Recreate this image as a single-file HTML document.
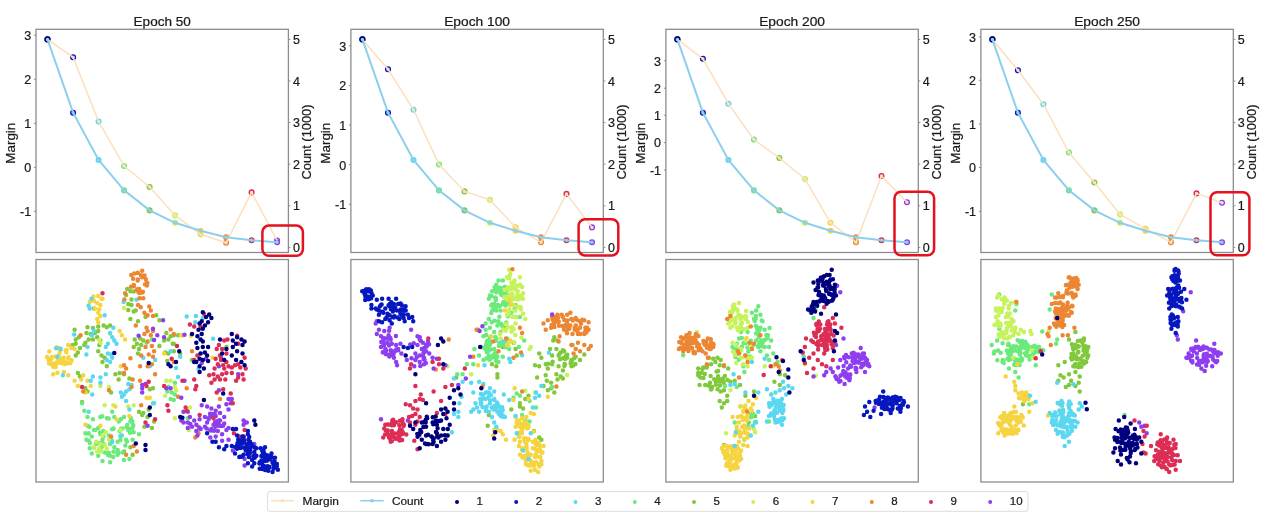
<!DOCTYPE html><html><head><meta charset="utf-8"><style>html,body{margin:0;padding:0;background:#fff;width:1269px;height:522px;overflow:hidden;position:relative}svg text{font-family:"Liberation Sans",sans-serif}svg{will-change:transform;filter:blur(0.3px)}svg text{stroke:#1a1a1a;stroke-width:0.22px}</style></head><body><svg width="1269" height="522" viewBox="0 0 1269 522" style="position:absolute;left:0;top:0">
<rect width="1269" height="522" fill="#fff"/>
<text x="162.2" y="26.1" font-size="12.2" text-anchor="middle" textLength="57.2" lengthAdjust="spacingAndGlyphs" fill="#1a1a1a">Epoch 50</text>
<rect x="36" y="29.3" width="252.4" height="223.2" fill="none" stroke="#8c8c8c" stroke-width="1.3"/>
<rect x="36" y="259.5" width="252.4" height="222.5" fill="none" stroke="#8c8c8c" stroke-width="1.3"/>
<line x1="34" y1="35.3" x2="36" y2="35.3" stroke="#8c8c8c" stroke-width="1"/>
<text x="31.1" y="40.1" font-size="12.5" text-anchor="end" fill="#1a1a1a">3</text>
<line x1="34" y1="79.3" x2="36" y2="79.3" stroke="#8c8c8c" stroke-width="1"/>
<text x="31.1" y="84.1" font-size="12.5" text-anchor="end" fill="#1a1a1a">2</text>
<line x1="34" y1="123.4" x2="36" y2="123.4" stroke="#8c8c8c" stroke-width="1"/>
<text x="31.1" y="128.2" font-size="12.5" text-anchor="end" fill="#1a1a1a">1</text>
<line x1="34" y1="167.4" x2="36" y2="167.4" stroke="#8c8c8c" stroke-width="1"/>
<text x="31.1" y="172.2" font-size="12.5" text-anchor="end" fill="#1a1a1a">0</text>
<line x1="34" y1="211.4" x2="36" y2="211.4" stroke="#8c8c8c" stroke-width="1"/>
<text x="31.1" y="216.2" font-size="12.5" text-anchor="end" fill="#1a1a1a">-1</text>
<line x1="288.4" y1="39.4" x2="290.4" y2="39.4" stroke="#8c8c8c" stroke-width="1"/>
<text x="292.9" y="43.9" font-size="12.5" fill="#1a1a1a">5</text>
<line x1="288.4" y1="81" x2="290.4" y2="81" stroke="#8c8c8c" stroke-width="1"/>
<text x="292.9" y="85.5" font-size="12.5" fill="#1a1a1a">4</text>
<line x1="288.4" y1="122.6" x2="290.4" y2="122.6" stroke="#8c8c8c" stroke-width="1"/>
<text x="292.9" y="127.1" font-size="12.5" fill="#1a1a1a">3</text>
<line x1="288.4" y1="164.2" x2="290.4" y2="164.2" stroke="#8c8c8c" stroke-width="1"/>
<text x="292.9" y="168.7" font-size="12.5" fill="#1a1a1a">2</text>
<line x1="288.4" y1="205.8" x2="290.4" y2="205.8" stroke="#8c8c8c" stroke-width="1"/>
<text x="292.9" y="210.3" font-size="12.5" fill="#1a1a1a">1</text>
<line x1="288.4" y1="247.4" x2="290.4" y2="247.4" stroke="#8c8c8c" stroke-width="1"/>
<text x="292.9" y="251.9" font-size="12.5" fill="#1a1a1a">0</text>
<text transform="translate(14.7,143.2) rotate(-90)" font-size="12.2" text-anchor="middle" textLength="41" lengthAdjust="spacingAndGlyphs" fill="#1a1a1a">Margin</text>
<text transform="translate(311.1,142) rotate(-90)" font-size="12.2" text-anchor="middle" textLength="75" lengthAdjust="spacingAndGlyphs" fill="#1a1a1a">Count (1000)</text>
<circle cx="47.5" cy="39.4" r="2.4" fill="#fcdfbd" stroke="#00007e" stroke-width="1.3"/>
<circle cx="47.5" cy="39.4" r="2.4" fill="#8ccfec" stroke="#00007e" stroke-width="1.3"/>
<circle cx="73.1" cy="57.3" r="2.4" fill="#fcdfbd" stroke="#0717bf" stroke-width="1.3"/>
<circle cx="73.1" cy="112.7" r="2.4" fill="#8ccfec" stroke="#0717bf" stroke-width="1.3"/>
<circle cx="98.6" cy="121.6" r="2.4" fill="#fcdfbd" stroke="#5ad8f2" stroke-width="1.3"/>
<circle cx="98.6" cy="160" r="2.4" fill="#8ccfec" stroke="#5ad8f2" stroke-width="1.3"/>
<circle cx="124.1" cy="166" r="2.4" fill="#fcdfbd" stroke="#6bea7c" stroke-width="1.3"/>
<circle cx="124.1" cy="190.4" r="2.4" fill="#8ccfec" stroke="#6bea7c" stroke-width="1.3"/>
<circle cx="149.6" cy="187" r="2.4" fill="#fcdfbd" stroke="#80c93c" stroke-width="1.3"/>
<circle cx="149.6" cy="210.4" r="2.4" fill="#8ccfec" stroke="#80c93c" stroke-width="1.3"/>
<circle cx="175.1" cy="215.4" r="2.4" fill="#fcdfbd" stroke="#c6f25a" stroke-width="1.3"/>
<circle cx="175.1" cy="222.8" r="2.4" fill="#8ccfec" stroke="#c6f25a" stroke-width="1.3"/>
<circle cx="200.6" cy="234.3" r="2.4" fill="#fcdfbd" stroke="#f6d43f" stroke-width="1.3"/>
<circle cx="200.6" cy="230.8" r="2.4" fill="#8ccfec" stroke="#f6d43f" stroke-width="1.3"/>
<circle cx="226.1" cy="242.8" r="2.4" fill="#fcdfbd" stroke="#ed8632" stroke-width="1.3"/>
<circle cx="226.1" cy="237.3" r="2.4" fill="#8ccfec" stroke="#ed8632" stroke-width="1.3"/>
<circle cx="251.6" cy="192.4" r="2.4" fill="#fcdfbd" stroke="#dc2e55" stroke-width="1.3"/>
<circle cx="251.6" cy="240.3" r="2.4" fill="#8ccfec" stroke="#dc2e55" stroke-width="1.3"/>
<circle cx="277.1" cy="240.5" r="2.4" fill="#fcdfbd" stroke="#8d3ff0" stroke-width="1.3"/>
<circle cx="277.1" cy="242.3" r="2.4" fill="#8ccfec" stroke="#8d3ff0" stroke-width="1.3"/>
<polyline points="47.5,39.4 73.1,57.3 98.6,121.6 124.1,166 149.6,187 175.1,215.4 200.6,234.3 226.1,242.8 251.6,192.4 277.1,240.5" fill="none" stroke="#fcdfbd" stroke-width="1.5"/>
<polyline points="47.5,39.4 73.1,112.7 98.6,160 124.1,190.4 149.6,210.4 175.1,222.8 200.6,230.8 226.1,237.3 251.6,240.3 277.1,242.3" fill="none" stroke="#8ccfec" stroke-width="2"/>
<rect x="262.4" y="225.6" width="40.5" height="30.2" rx="6.5" fill="none" stroke="#e3121e" stroke-width="2.5"/>
<text x="477.1" y="26.1" font-size="12.2" text-anchor="middle" textLength="65.8" lengthAdjust="spacingAndGlyphs" fill="#1a1a1a">Epoch 100</text>
<rect x="350.9" y="29.3" width="252.4" height="223.2" fill="none" stroke="#8c8c8c" stroke-width="1.3"/>
<rect x="350.9" y="259.5" width="252.4" height="222.5" fill="none" stroke="#8c8c8c" stroke-width="1.3"/>
<line x1="348.9" y1="45.9" x2="350.9" y2="45.9" stroke="#8c8c8c" stroke-width="1"/>
<text x="346.1" y="50.7" font-size="12.5" text-anchor="end" fill="#1a1a1a">3</text>
<line x1="348.9" y1="85.5" x2="350.9" y2="85.5" stroke="#8c8c8c" stroke-width="1"/>
<text x="346.1" y="90.3" font-size="12.5" text-anchor="end" fill="#1a1a1a">2</text>
<line x1="348.9" y1="125.1" x2="350.9" y2="125.1" stroke="#8c8c8c" stroke-width="1"/>
<text x="346.1" y="129.9" font-size="12.5" text-anchor="end" fill="#1a1a1a">1</text>
<line x1="348.9" y1="164.7" x2="350.9" y2="164.7" stroke="#8c8c8c" stroke-width="1"/>
<text x="346.1" y="169.5" font-size="12.5" text-anchor="end" fill="#1a1a1a">0</text>
<line x1="348.9" y1="204.3" x2="350.9" y2="204.3" stroke="#8c8c8c" stroke-width="1"/>
<text x="346.1" y="209.1" font-size="12.5" text-anchor="end" fill="#1a1a1a">-1</text>
<line x1="603.4" y1="39.4" x2="605.4" y2="39.4" stroke="#8c8c8c" stroke-width="1"/>
<text x="607.9" y="43.9" font-size="12.5" fill="#1a1a1a">5</text>
<line x1="603.4" y1="81" x2="605.4" y2="81" stroke="#8c8c8c" stroke-width="1"/>
<text x="607.9" y="85.5" font-size="12.5" fill="#1a1a1a">4</text>
<line x1="603.4" y1="122.6" x2="605.4" y2="122.6" stroke="#8c8c8c" stroke-width="1"/>
<text x="607.9" y="127.1" font-size="12.5" fill="#1a1a1a">3</text>
<line x1="603.4" y1="164.2" x2="605.4" y2="164.2" stroke="#8c8c8c" stroke-width="1"/>
<text x="607.9" y="168.7" font-size="12.5" fill="#1a1a1a">2</text>
<line x1="603.4" y1="205.8" x2="605.4" y2="205.8" stroke="#8c8c8c" stroke-width="1"/>
<text x="607.9" y="210.3" font-size="12.5" fill="#1a1a1a">1</text>
<line x1="603.4" y1="247.4" x2="605.4" y2="247.4" stroke="#8c8c8c" stroke-width="1"/>
<text x="607.9" y="251.9" font-size="12.5" fill="#1a1a1a">0</text>
<text transform="translate(329.6,143.2) rotate(-90)" font-size="12.2" text-anchor="middle" textLength="41" lengthAdjust="spacingAndGlyphs" fill="#1a1a1a">Margin</text>
<text transform="translate(626.1,142) rotate(-90)" font-size="12.2" text-anchor="middle" textLength="75" lengthAdjust="spacingAndGlyphs" fill="#1a1a1a">Count (1000)</text>
<circle cx="362.4" cy="39.4" r="2.4" fill="#fcdfbd" stroke="#00007e" stroke-width="1.3"/>
<circle cx="362.4" cy="39.4" r="2.4" fill="#8ccfec" stroke="#00007e" stroke-width="1.3"/>
<circle cx="388" cy="69.3" r="2.4" fill="#fcdfbd" stroke="#0717bf" stroke-width="1.3"/>
<circle cx="388" cy="112.7" r="2.4" fill="#8ccfec" stroke="#0717bf" stroke-width="1.3"/>
<circle cx="413.5" cy="109.7" r="2.4" fill="#fcdfbd" stroke="#5ad8f2" stroke-width="1.3"/>
<circle cx="413.5" cy="160" r="2.4" fill="#8ccfec" stroke="#5ad8f2" stroke-width="1.3"/>
<circle cx="439" cy="164.5" r="2.4" fill="#fcdfbd" stroke="#6bea7c" stroke-width="1.3"/>
<circle cx="439" cy="190.4" r="2.4" fill="#8ccfec" stroke="#6bea7c" stroke-width="1.3"/>
<circle cx="464.5" cy="191.4" r="2.4" fill="#fcdfbd" stroke="#80c93c" stroke-width="1.3"/>
<circle cx="464.5" cy="210.4" r="2.4" fill="#8ccfec" stroke="#80c93c" stroke-width="1.3"/>
<circle cx="490" cy="199.9" r="2.4" fill="#fcdfbd" stroke="#c6f25a" stroke-width="1.3"/>
<circle cx="490" cy="222.8" r="2.4" fill="#8ccfec" stroke="#c6f25a" stroke-width="1.3"/>
<circle cx="515.5" cy="227.3" r="2.4" fill="#fcdfbd" stroke="#f6d43f" stroke-width="1.3"/>
<circle cx="515.5" cy="230.8" r="2.4" fill="#8ccfec" stroke="#f6d43f" stroke-width="1.3"/>
<circle cx="541" cy="242.3" r="2.4" fill="#fcdfbd" stroke="#ed8632" stroke-width="1.3"/>
<circle cx="541" cy="237.3" r="2.4" fill="#8ccfec" stroke="#ed8632" stroke-width="1.3"/>
<circle cx="566.5" cy="193.9" r="2.4" fill="#fcdfbd" stroke="#dc2e55" stroke-width="1.3"/>
<circle cx="566.5" cy="240.3" r="2.4" fill="#8ccfec" stroke="#dc2e55" stroke-width="1.3"/>
<circle cx="592" cy="227.4" r="2.4" fill="#fcdfbd" stroke="#8d3ff0" stroke-width="1.3"/>
<circle cx="592" cy="242.3" r="2.4" fill="#8ccfec" stroke="#8d3ff0" stroke-width="1.3"/>
<polyline points="362.4,39.4 388,69.3 413.5,109.7 439,164.5 464.5,191.4 490,199.9 515.5,227.3 541,242.3 566.5,193.9 592,227.4" fill="none" stroke="#fcdfbd" stroke-width="1.5"/>
<polyline points="362.4,39.4 388,112.7 413.5,160 439,190.4 464.5,210.4 490,222.8 515.5,230.8 541,237.3 566.5,240.3 592,242.3" fill="none" stroke="#8ccfec" stroke-width="2"/>
<rect x="578.6" y="219.3" width="39.7" height="36.1" rx="6.5" fill="none" stroke="#e3121e" stroke-width="2.5"/>
<text x="792.1" y="26.1" font-size="12.2" text-anchor="middle" textLength="65.8" lengthAdjust="spacingAndGlyphs" fill="#1a1a1a">Epoch 200</text>
<rect x="665.9" y="29.3" width="252.4" height="223.2" fill="none" stroke="#8c8c8c" stroke-width="1.3"/>
<rect x="665.9" y="259.5" width="252.4" height="222.5" fill="none" stroke="#8c8c8c" stroke-width="1.3"/>
<line x1="663.9" y1="60.8" x2="665.9" y2="60.8" stroke="#8c8c8c" stroke-width="1"/>
<text x="661" y="65.6" font-size="12.5" text-anchor="end" fill="#1a1a1a">3</text>
<line x1="663.9" y1="88.2" x2="665.9" y2="88.2" stroke="#8c8c8c" stroke-width="1"/>
<text x="661" y="93" font-size="12.5" text-anchor="end" fill="#1a1a1a">2</text>
<line x1="663.9" y1="115.2" x2="665.9" y2="115.2" stroke="#8c8c8c" stroke-width="1"/>
<text x="661" y="120" font-size="12.5" text-anchor="end" fill="#1a1a1a">1</text>
<line x1="663.9" y1="142.6" x2="665.9" y2="142.6" stroke="#8c8c8c" stroke-width="1"/>
<text x="661" y="147.4" font-size="12.5" text-anchor="end" fill="#1a1a1a">0</text>
<line x1="663.9" y1="170" x2="665.9" y2="170" stroke="#8c8c8c" stroke-width="1"/>
<text x="661" y="174.8" font-size="12.5" text-anchor="end" fill="#1a1a1a">-1</text>
<line x1="918.3" y1="39.4" x2="920.3" y2="39.4" stroke="#8c8c8c" stroke-width="1"/>
<text x="922.8" y="43.9" font-size="12.5" fill="#1a1a1a">5</text>
<line x1="918.3" y1="81" x2="920.3" y2="81" stroke="#8c8c8c" stroke-width="1"/>
<text x="922.8" y="85.5" font-size="12.5" fill="#1a1a1a">4</text>
<line x1="918.3" y1="122.6" x2="920.3" y2="122.6" stroke="#8c8c8c" stroke-width="1"/>
<text x="922.8" y="127.1" font-size="12.5" fill="#1a1a1a">3</text>
<line x1="918.3" y1="164.2" x2="920.3" y2="164.2" stroke="#8c8c8c" stroke-width="1"/>
<text x="922.8" y="168.7" font-size="12.5" fill="#1a1a1a">2</text>
<line x1="918.3" y1="205.8" x2="920.3" y2="205.8" stroke="#8c8c8c" stroke-width="1"/>
<text x="922.8" y="210.3" font-size="12.5" fill="#1a1a1a">1</text>
<line x1="918.3" y1="247.4" x2="920.3" y2="247.4" stroke="#8c8c8c" stroke-width="1"/>
<text x="922.8" y="251.9" font-size="12.5" fill="#1a1a1a">0</text>
<text transform="translate(644.6,143.2) rotate(-90)" font-size="12.2" text-anchor="middle" textLength="41" lengthAdjust="spacingAndGlyphs" fill="#1a1a1a">Margin</text>
<text transform="translate(941,142) rotate(-90)" font-size="12.2" text-anchor="middle" textLength="75" lengthAdjust="spacingAndGlyphs" fill="#1a1a1a">Count (1000)</text>
<circle cx="677.4" cy="39.4" r="2.4" fill="#fcdfbd" stroke="#00007e" stroke-width="1.3"/>
<circle cx="677.4" cy="39.4" r="2.4" fill="#8ccfec" stroke="#00007e" stroke-width="1.3"/>
<circle cx="702.9" cy="58.8" r="2.4" fill="#fcdfbd" stroke="#0717bf" stroke-width="1.3"/>
<circle cx="702.9" cy="112.7" r="2.4" fill="#8ccfec" stroke="#0717bf" stroke-width="1.3"/>
<circle cx="728.4" cy="103.7" r="2.4" fill="#fcdfbd" stroke="#5ad8f2" stroke-width="1.3"/>
<circle cx="728.4" cy="160" r="2.4" fill="#8ccfec" stroke="#5ad8f2" stroke-width="1.3"/>
<circle cx="753.9" cy="139.6" r="2.4" fill="#fcdfbd" stroke="#6bea7c" stroke-width="1.3"/>
<circle cx="753.9" cy="190.4" r="2.4" fill="#8ccfec" stroke="#6bea7c" stroke-width="1.3"/>
<circle cx="779.4" cy="158" r="2.4" fill="#fcdfbd" stroke="#80c93c" stroke-width="1.3"/>
<circle cx="779.4" cy="210.4" r="2.4" fill="#8ccfec" stroke="#80c93c" stroke-width="1.3"/>
<circle cx="805" cy="179" r="2.4" fill="#fcdfbd" stroke="#c6f25a" stroke-width="1.3"/>
<circle cx="805" cy="222.8" r="2.4" fill="#8ccfec" stroke="#c6f25a" stroke-width="1.3"/>
<circle cx="830.5" cy="222.8" r="2.4" fill="#fcdfbd" stroke="#f6d43f" stroke-width="1.3"/>
<circle cx="830.5" cy="230.8" r="2.4" fill="#8ccfec" stroke="#f6d43f" stroke-width="1.3"/>
<circle cx="856" cy="242.3" r="2.4" fill="#fcdfbd" stroke="#ed8632" stroke-width="1.3"/>
<circle cx="856" cy="237.3" r="2.4" fill="#8ccfec" stroke="#ed8632" stroke-width="1.3"/>
<circle cx="881.5" cy="176" r="2.4" fill="#fcdfbd" stroke="#dc2e55" stroke-width="1.3"/>
<circle cx="881.5" cy="240.3" r="2.4" fill="#8ccfec" stroke="#dc2e55" stroke-width="1.3"/>
<circle cx="907" cy="202.3" r="2.4" fill="#fcdfbd" stroke="#8d3ff0" stroke-width="1.3"/>
<circle cx="907" cy="242.3" r="2.4" fill="#8ccfec" stroke="#8d3ff0" stroke-width="1.3"/>
<polyline points="677.4,39.4 702.9,58.8 728.4,103.7 753.9,139.6 779.4,158 805,179 830.5,222.8 856,242.3 881.5,176 907,202.3" fill="none" stroke="#fcdfbd" stroke-width="1.5"/>
<polyline points="677.4,39.4 702.9,112.7 728.4,160 753.9,190.4 779.4,210.4 805,222.8 830.5,230.8 856,237.3 881.5,240.3 907,242.3" fill="none" stroke="#8ccfec" stroke-width="2"/>
<rect x="894.5" y="191.8" width="39.6" height="63.4" rx="6.5" fill="none" stroke="#e3121e" stroke-width="2.5"/>
<text x="1107.1" y="26.1" font-size="12.2" text-anchor="middle" textLength="65.8" lengthAdjust="spacingAndGlyphs" fill="#1a1a1a">Epoch 250</text>
<rect x="980.9" y="29.3" width="252.4" height="223.2" fill="none" stroke="#8c8c8c" stroke-width="1.3"/>
<rect x="980.9" y="259.5" width="252.4" height="222.5" fill="none" stroke="#8c8c8c" stroke-width="1.3"/>
<line x1="978.9" y1="36.9" x2="980.9" y2="36.9" stroke="#8c8c8c" stroke-width="1"/>
<text x="976" y="41.7" font-size="12.5" text-anchor="end" fill="#1a1a1a">3</text>
<line x1="978.9" y1="80.3" x2="980.9" y2="80.3" stroke="#8c8c8c" stroke-width="1"/>
<text x="976" y="85.1" font-size="12.5" text-anchor="end" fill="#1a1a1a">2</text>
<line x1="978.9" y1="124.1" x2="980.9" y2="124.1" stroke="#8c8c8c" stroke-width="1"/>
<text x="976" y="128.9" font-size="12.5" text-anchor="end" fill="#1a1a1a">1</text>
<line x1="978.9" y1="167.5" x2="980.9" y2="167.5" stroke="#8c8c8c" stroke-width="1"/>
<text x="976" y="172.3" font-size="12.5" text-anchor="end" fill="#1a1a1a">0</text>
<line x1="978.9" y1="211.4" x2="980.9" y2="211.4" stroke="#8c8c8c" stroke-width="1"/>
<text x="976" y="216.2" font-size="12.5" text-anchor="end" fill="#1a1a1a">-1</text>
<line x1="1233.3" y1="39.4" x2="1235.3" y2="39.4" stroke="#8c8c8c" stroke-width="1"/>
<text x="1237.8" y="43.9" font-size="12.5" fill="#1a1a1a">5</text>
<line x1="1233.3" y1="81" x2="1235.3" y2="81" stroke="#8c8c8c" stroke-width="1"/>
<text x="1237.8" y="85.5" font-size="12.5" fill="#1a1a1a">4</text>
<line x1="1233.3" y1="122.6" x2="1235.3" y2="122.6" stroke="#8c8c8c" stroke-width="1"/>
<text x="1237.8" y="127.1" font-size="12.5" fill="#1a1a1a">3</text>
<line x1="1233.3" y1="164.2" x2="1235.3" y2="164.2" stroke="#8c8c8c" stroke-width="1"/>
<text x="1237.8" y="168.7" font-size="12.5" fill="#1a1a1a">2</text>
<line x1="1233.3" y1="205.8" x2="1235.3" y2="205.8" stroke="#8c8c8c" stroke-width="1"/>
<text x="1237.8" y="210.3" font-size="12.5" fill="#1a1a1a">1</text>
<line x1="1233.3" y1="247.4" x2="1235.3" y2="247.4" stroke="#8c8c8c" stroke-width="1"/>
<text x="1237.8" y="251.9" font-size="12.5" fill="#1a1a1a">0</text>
<text transform="translate(959.6,143.2) rotate(-90)" font-size="12.2" text-anchor="middle" textLength="41" lengthAdjust="spacingAndGlyphs" fill="#1a1a1a">Margin</text>
<text transform="translate(1256,142) rotate(-90)" font-size="12.2" text-anchor="middle" textLength="75" lengthAdjust="spacingAndGlyphs" fill="#1a1a1a">Count (1000)</text>
<circle cx="992.4" cy="39.4" r="2.4" fill="#fcdfbd" stroke="#00007e" stroke-width="1.3"/>
<circle cx="992.4" cy="39.4" r="2.4" fill="#8ccfec" stroke="#00007e" stroke-width="1.3"/>
<circle cx="1017.9" cy="70.3" r="2.4" fill="#fcdfbd" stroke="#0717bf" stroke-width="1.3"/>
<circle cx="1017.9" cy="112.7" r="2.4" fill="#8ccfec" stroke="#0717bf" stroke-width="1.3"/>
<circle cx="1043.4" cy="104.2" r="2.4" fill="#fcdfbd" stroke="#5ad8f2" stroke-width="1.3"/>
<circle cx="1043.4" cy="160" r="2.4" fill="#8ccfec" stroke="#5ad8f2" stroke-width="1.3"/>
<circle cx="1068.9" cy="152.5" r="2.4" fill="#fcdfbd" stroke="#6bea7c" stroke-width="1.3"/>
<circle cx="1068.9" cy="190.4" r="2.4" fill="#8ccfec" stroke="#6bea7c" stroke-width="1.3"/>
<circle cx="1094.4" cy="182.5" r="2.4" fill="#fcdfbd" stroke="#80c93c" stroke-width="1.3"/>
<circle cx="1094.4" cy="210.4" r="2.4" fill="#8ccfec" stroke="#80c93c" stroke-width="1.3"/>
<circle cx="1120" cy="214.4" r="2.4" fill="#fcdfbd" stroke="#c6f25a" stroke-width="1.3"/>
<circle cx="1120" cy="222.8" r="2.4" fill="#8ccfec" stroke="#c6f25a" stroke-width="1.3"/>
<circle cx="1145.5" cy="228.8" r="2.4" fill="#fcdfbd" stroke="#f6d43f" stroke-width="1.3"/>
<circle cx="1145.5" cy="230.8" r="2.4" fill="#8ccfec" stroke="#f6d43f" stroke-width="1.3"/>
<circle cx="1171" cy="242.3" r="2.4" fill="#fcdfbd" stroke="#ed8632" stroke-width="1.3"/>
<circle cx="1171" cy="237.3" r="2.4" fill="#8ccfec" stroke="#ed8632" stroke-width="1.3"/>
<circle cx="1196.5" cy="193.4" r="2.4" fill="#fcdfbd" stroke="#dc2e55" stroke-width="1.3"/>
<circle cx="1196.5" cy="240.3" r="2.4" fill="#8ccfec" stroke="#dc2e55" stroke-width="1.3"/>
<circle cx="1222" cy="202.8" r="2.4" fill="#fcdfbd" stroke="#8d3ff0" stroke-width="1.3"/>
<circle cx="1222" cy="242.3" r="2.4" fill="#8ccfec" stroke="#8d3ff0" stroke-width="1.3"/>
<polyline points="992.4,39.4 1017.9,70.3 1043.4,104.2 1068.9,152.5 1094.4,182.5 1120,214.4 1145.5,228.8 1171,242.3 1196.5,193.4 1222,202.8" fill="none" stroke="#fcdfbd" stroke-width="1.5"/>
<polyline points="992.4,39.4 1017.9,112.7 1043.4,160 1068.9,190.4 1094.4,210.4 1120,222.8 1145.5,230.8 1171,237.3 1196.5,240.3 1222,242.3" fill="none" stroke="#8ccfec" stroke-width="2"/>
<rect x="1210.5" y="192.3" width="38.9" height="62.9" rx="6.5" fill="none" stroke="#e3121e" stroke-width="2.5"/>
<path d="M168.4 353.4h0M703.4 377.9h0M168.4 339.5h0M724.0 390.3h0M173.8 351.3h0M785.1 375.3h0M550.0 349.1h0M755.1 416.1h0M149.8 389.2h0M698.2 373.1h0M1063.6 377.4h0M570.6 362.9h0M1071.8 359.4h0M1022.9 404.3h0M719.7 401.0h0M719.7 365.2h0M574.4 358.0h0M551.1 382.8h0M159.4 320.2h0M133.7 291.6h0M1065.8 387.1h0M1079.7 391.4h0M101.5 355.6h0M106.8 366.3h0M128.3 304.1h0M727.2 401.0h0M525.3 398.9h0M720.0 385.4h0M1084.0 338.4h0M143.3 412.9h0M488.8 415.0h0M104.7 357.7h0M1071.5 354.0h0M702.5 368.9h0M118.6 379.6h0M547.8 368.5h0M1075.4 386.0h0M539.2 437.5h0M560.7 352.6h0M86.4 333.1h0M141.2 344.9h0M180.2 353.4h0M535.0 365.2h0M541.4 357.7h0M571.4 359.9h0M740.1 385.0h0M1081.4 366.7h0M1072.8 346.8h0M1075.4 372.1h0M1086.8 354.5h0M496.3 366.3h0M567.3 354.7h0M140.1 338.4h0M497.4 374.2h0M1077.9 340.9h0M74.6 329.8h0M558.7 354.9h0M722.2 378.7h0M1082.3 342.5h0M127.2 289.0h0M1075.4 332.0h0M724.9 376.0h0M1075.1 364.3h0M77.9 352.4h0M226.4 347.0h0M724.0 445.1h0M1075.1 344.7h0M94.0 308.4h0M115.4 374.2h0M136.9 343.8h0M708.6 385.3h0M139.0 411.8h0M709.4 385.9h0M1064.7 362.0h0M124.0 374.2h0M779.8 385.0h0M1084.9 354.1h0M1075.2 358.5h0M571.4 366.3h0M1087.3 357.7h0M100.4 340.6h0M497.4 377.4h0M720.7 391.4h0M167.4 361.0h0M80.0 376.4h0M552.1 364.2h0M72.5 344.9h0M545.7 364.2h0M1075.3 355.8h0M556.4 349.1h0M560.0 359.3h0M1084.0 363.5h0M580.0 359.9h0M129.4 378.5h0M539.2 366.3h0M1060.4 375.3h0M572.5 344.9h0M706.5 366.4h0M103.6 325.5h0M172.7 343.8h0M558.6 366.3h0M564.4 366.1h0M144.4 426.8h0M565.8 358.6h0M1069.0 339.5h0M1083.3 345.4h0M111.1 392.5h0M557.5 340.6h0M97.2 337.3h0M1079.7 363.6h0M192.0 359.9h0M571.0 362.5h0M728.2 368.5h0M1086.2 362.0h0M545.7 375.3h0M516.7 355.6h0M718.1 370.9h0M170.6 336.3h0M543.5 386.0h0M706.7 367.6h0M173.8 335.2h0M701.7 372.7h0M148.7 409.6h0M87.5 391.4h0M124.0 451.5h0M110.1 325.5h0M712.1 387.1h0M78.9 337.3h0M1072.9 355.9h0M1078.7 382.8h0M704.9 374.1h0M724.0 366.3h0M703.2 367.5h0M85.4 342.7h0M156.2 315.2h0M554.3 337.3h0M699.3 373.2h0M143.3 340.6h0M1078.0 352.4h0M138.0 353.4h0M541.4 439.7h0M166.3 333.1h0M710.6 376.1h0M523.1 408.6h0M139.0 349.1h0M721.8 407.5h0M717.5 389.2h0M75.7 339.5h0M154.1 421.4h0M131.5 299.4h0M699.6 385.1h0M560.5 358.9h0M565.0 364.2h0M142.2 415.0h0M705.2 385.0h0M560.0 353.3h0M151.9 427.9h0M99.3 344.9h0M575.4 364.0h0M98.2 326.6h0M1078.4 351.7h0M562.9 350.2h0M717.9 378.7h0M102.5 362.0h0M138.0 321.2h0M1058.3 365.2h0M77.9 373.1h0M135.8 310.5h0M1083.7 348.7h0M528.5 395.7h0M711.6 389.0h0M492.0 364.2h0M1058.3 380.7h0M119.7 373.1h0M552.6 361.7h0M714.2 379.3h0M557.5 379.6h0M552.1 355.6h0M710.0 382.8h0M1088.3 355.6h0M565.2 359.0h0M80.0 348.1h0M1071.1 380.7h0M159.4 345.9h0M724.0 403.2h0M1073.4 353.8h0M98.2 330.9h0M456.2 377.4h0M727.4 379.9h0M502.8 347.0h0M1082.7 361.9h0M147.6 417.1h0M134.7 339.5h0M774.4 381.7h0M564.2 351.3h0M1083.8 349.2h0M716.6 371.4h0M1083.2 360.9h0M1075.6 364.0h0M515.6 349.1h0M1071.9 344.3h0M730.4 381.7h0M553.2 340.6h0M1083.5 350.5h0M706.8 366.3h0M88.6 339.5h0M745.4 395.7h0M98.2 351.3h0M558.6 355.6h0M1083.8 347.1h0M153.0 388.2h0M572.0 360.6h0M727.2 395.7h0M504.9 327.7h0M718.1 376.3h0M1073.5 349.5h0M130.4 447.2h0M75.7 355.6h0M713.2 358.8h0M708.9 357.7h0M539.2 353.4h0M562.9 378.5h0M720.7 359.9h0M546.8 380.7h0M715.8 381.2h0M173.8 343.8h0M519.9 406.4h0M548.1 363.7h0M128.3 310.1h0M554.3 392.5h0M133.7 311.6h0M551.1 388.2h0M487.7 425.7h0M562.9 370.6h0M164.1 340.6h0M567.1 357.7h0M75.7 343.8h0M1088.1 355.7h0M779.8 374.2h0M537.1 377.4h0M748.6 422.5h0M1074.3 366.5h0M698.2 368.5h0M165.2 352.4h0M566.0 355.8h0M1077.3 359.2h0M754.0 391.4h0M84.3 344.9h0M1082.6 355.9h0M1069.0 385.0h0M1080.1 358.8h0M85.4 388.2h0M1077.7 346.0h0M1076.4 357.0h0M715.4 362.0h0M145.5 317.0h0M1085.6 349.4h0M1075.8 348.1h0M132.6 454.7h0M1080.8 340.6h0M1086.8 351.6h0M133.7 347.0h0M178.1 335.2h0M575.7 356.7h0M1088.3 347.0h0M563.4 357.9h0M1078.2 367.2h0M722.9 379.6h0M533.9 431.1h0M131.5 305.1h0M130.4 319.1h0M1077.6 346.7h0M1085.7 346.2h0M1087.2 349.2h0M1073.0 348.6h0M511.3 409.6h0M95.0 333.1h0M1086.0 354.3h0M1079.7 376.4h0M715.9 384.7h0M560.7 376.4h0M723.7 382.8h0M82.1 402.1h0M496.3 357.7h0M711.0 389.5h0M547.8 390.3h0M556.4 374.2h0M1086.2 349.8h0M698.2 375.3h0M1071.1 357.7h0M573.1 365.6h0M584.3 354.5h0M519.9 403.2h0M92.9 328.1h0M1073.3 366.3h0M92.9 339.5h0M734.7 380.7h0M717.5 357.7h0M564.6 364.0h0M700.3 377.4h0M126.1 295.1h0M106.8 327.3h0M182.4 335.2h0M719.6 381.6h0M130.4 291.2h0M1078.9 346.4h0M513.5 342.7h0M711.1 364.2h0M87.5 327.3h0M90.7 334.1h0M1083.7 340.7h0M1069.0 374.2h0" stroke="#80c93c" stroke-width="4.5" stroke-linecap="round" fill="none"/>
<path d="M139.0 434.3h0M100.4 434.3h0M500.6 310.5h0M108.7 418.4h0M511.3 312.7h0M757.9 346.2h0M745.8 343.1h0M536.0 407.5h0M483.4 359.9h0M497.8 305.1h0M760.4 314.8h0M1017.3 351.1h0M1010.7 354.4h0M754.7 321.1h0M1020.5 346.5h0M519.9 317.0h0M489.9 295.5h0M756.6 326.8h0M99.9 432.6h0M515.6 305.1h0M457.2 374.2h0M500.6 293.3h0M1003.7 362.9h0M499.8 306.0h0M474.4 349.1h0M1028.2 349.1h0M488.9 350.8h0M1003.5 360.4h0M773.3 353.4h0M503.8 296.6h0M486.6 350.9h0M486.8 341.2h0M732.5 347.0h0M1022.1 359.5h0M495.3 336.9h0M750.8 340.8h0M496.3 310.5h0M749.9 356.4h0M487.7 340.6h0M753.2 413.9h0M126.1 439.7h0M502.8 280.5h0M491.4 296.0h0M1018.2 340.5h0M494.3 308.1h0M756.1 340.6h0M1124.6 415.0h0M110.1 462.2h0M486.3 358.6h0M509.6 298.1h0M486.9 352.3h0M1051.8 294.4h0M496.3 292.3h0M1034.5 345.8h0M759.2 343.9h0M502.2 325.9h0M1017.6 359.8h0M501.4 324.0h0M98.2 427.9h0M1022.1 340.9h0M1011.2 348.6h0M1032.5 347.0h0M489.6 359.8h0M84.3 410.7h0M756.1 310.5h0M769.0 347.0h0M1031.6 356.3h0M1021.8 359.9h0M127.1 425.1h0M113.3 429.0h0M494.2 304.1h0M505.5 305.6h0M1019.4 348.3h0M502.2 293.3h0M117.6 453.6h0M1016.4 304.1h0M741.1 332.0h0M755.7 325.7h0M146.5 342.7h0M748.3 351.6h0M107.9 454.7h0M493.8 304.9h0M766.3 334.9h0M112.2 411.8h0M132.1 428.5h0M89.7 442.9h0M490.7 349.4h0M764.7 329.8h0M102.5 439.7h0M103.3 431.0h0M758.3 306.2h0M766.9 355.6h0M489.9 327.7h0M997.3 360.2h0M109.0 435.4h0M1039.0 347.0h0M761.9 340.5h0M739.0 338.4h0M496.5 361.6h0M1026.1 355.6h0M516.7 393.5h0M1002.8 359.9h0M1035.7 365.2h0M1007.6 358.7h0M486.1 335.1h0M741.8 337.9h0M95.2 429.9h0M1035.7 347.0h0M750.9 413.5h0M761.7 320.5h0M495.0 289.3h0M762.1 346.2h0M1020.5 353.0h0M1024.9 343.5h0M738.7 359.7h0M466.9 364.2h0M733.5 351.5h0M529.6 401.0h0M110.1 444.0h0M496.3 338.4h0M483.4 347.6h0M504.4 344.1h0M734.7 422.5h0M187.8 418.2h0M87.5 425.7h0M1010.5 359.2h0M735.4 356.9h0M485.6 323.4h0M747.5 347.6h0M993.9 353.4h0M121.9 435.4h0M100.4 417.1h0M484.6 347.5h0M94.1 447.5h0M89.4 426.7h0M500.3 290.4h0M117.6 441.8h0M104.7 452.6h0M750.8 417.3h0M1015.3 310.5h0M124.0 460.1h0M488.8 355.6h0M769.6 328.1h0M1008.0 353.5h0M1016.1 365.0h0M504.9 293.3h0M82.1 403.2h0M122.5 428.5h0M767.5 337.8h0M1034.8 351.6h0M994.4 351.5h0M170.6 398.9h0M120.4 436.3h0M1034.6 352.6h0M494.4 320.8h0M113.6 428.6h0M1015.3 372.1h0M1008.4 350.7h0M509.8 304.5h0M762.6 321.2h0M1038.0 349.4h0M126.9 441.5h0M491.8 322.3h0M495.3 308.6h0M755.9 316.1h0M1038.6 351.9h0M492.3 310.6h0M1025.0 347.9h0M736.8 387.1h0M130.0 432.7h0M741.9 346.7h0M167.4 391.4h0M102.5 461.1h0M997.1 340.6h0M1021.5 358.3h0M492.0 291.2h0M518.9 347.0h0M1057.2 339.5h0M120.4 440.0h0M494.2 332.0h0M486.2 344.3h0M118.6 452.8h0M504.3 291.9h0M153.0 403.2h0M500.6 332.0h0M1027.2 351.8h0M506.6 341.5h0M759.3 330.6h0M130.8 417.9h0M1008.1 344.9h0M488.8 298.7h0M748.3 425.8h0M133.2 425.1h0M100.4 450.4h0M1025.3 341.7h0M769.0 359.9h0M87.5 417.1h0M1029.6 359.4h0M85.4 433.2h0M496.3 284.8h0M88.8 440.8h0M1028.8 347.1h0M752.8 414.8h0M1004.6 333.1h0M89.7 448.3h0M94.0 430.0h0M119.7 431.1h0M117.5 454.8h0M504.9 301.9h0M743.3 366.3h0M743.5 343.1h0M764.7 347.0h0M756.1 333.6h0M1049.7 309.4h0M1016.1 346.4h0M1006.9 350.5h0M129.4 459.0h0M1037.2 347.2h0M88.6 433.2h0M757.3 329.6h0M1016.8 361.3h0M504.9 342.9h0M108.9 453.0h0M91.8 436.5h0M485.6 349.1h0M524.2 340.6h0M491.3 305.6h0M107.7 452.8h0M496.2 355.0h0M91.8 453.6h0M102.2 416.3h0M131.0 420.0h0M755.8 318.5h0M777.6 362.0h0M479.1 355.6h0M114.3 447.2h0M496.3 429.0h0M1027.3 349.9h0M122.9 452.6h0M1013.2 346.2h0M490.1 344.0h0M125.3 445.5h0M769.0 421.4h0M494.2 349.1h0M132.2 421.2h0M508.9 313.4h0M487.6 347.5h0M498.5 280.5h0M1017.1 364.3h0M498.3 321.4h0M1019.7 341.9h0M519.9 395.7h0M813.5 318.0h0M754.8 422.0h0M1019.7 354.5h0M171.7 392.5h0M168.4 387.1h0M1018.6 377.4h0M552.1 387.1h0M760.3 342.1h0M117.7 450.1h0M495.0 353.1h0M1014.2 364.7h0M501.3 294.8h0M755.8 421.8h0M513.5 397.8h0M499.5 342.7h0M744.3 372.1h0M98.2 455.8h0M1026.0 343.5h0M759.3 346.0h0M496.0 298.5h0M111.7 440.2h0M492.2 357.4h0M491.4 313.0h0M483.4 336.3h0M489.9 344.9h0M504.3 290.9h0M497.4 306.2h0M762.6 342.7h0M1032.5 354.3h0M522.1 415.0h0M1016.8 360.7h0M112.0 429.2h0M498.5 362.0h0M1015.3 362.0h0M683.2 355.2h0M1042.2 331.5h0M121.0 428.7h0M124.0 417.1h0M174.9 382.8h0M1009.3 355.3h0M815.6 309.4h0M759.8 328.4h0M494.0 308.3h0M1008.9 359.9h0M758.7 337.4h0M462.6 374.2h0M991.7 344.9h0M1008.9 368.5h0M1030.5 347.8h0M128.9 428.9h0M1008.4 343.7h0M750.9 345.7h0M103.5 436.4h0M760.4 351.3h0M1011.9 351.5h0M1019.6 364.9h0M1002.5 362.0h0M501.9 344.7h0M1029.3 404.3h0M737.1 343.8h0M1024.3 343.2h0M764.7 339.9h0M1028.5 356.0h0M998.1 350.4h0M489.8 341.4h0M525.3 420.4h0M738.2 349.4h0M485.6 329.8h0M1020.3 349.5h0M1056.1 343.8h0M760.4 327.7h0M1000.7 352.8h0M725.0 386.0h0M493.3 355.0h0M133.1 426.2h0M132.6 439.7h0M735.8 349.2h0M1021.6 345.1h0M758.3 334.1h0M118.8 421.5h0M113.5 451.8h0M754.0 319.1h0M505.5 347.3h0M495.2 297.6h0M86.4 439.7h0M497.4 289.0h0M529.6 421.4h0M761.6 341.5h0M1043.2 350.2h0M767.9 335.2h0M766.9 338.4h0M495.6 340.7h0M758.1 330.2h0M507.0 304.1h0M1023.8 347.5h0M762.7 342.6h0M759.0 345.2h0M758.3 347.0h0M507.3 338.7h0M499.2 287.8h0M173.8 400.0h0M1017.6 340.2h0M120.8 419.3h0M106.8 418.2h0M506.4 295.1h0M130.4 421.4h0M747.6 332.0h0M502.8 304.1h0M109.9 455.7h0M127.2 425.1h0M92.9 419.3h0M506.9 290.4h0M999.2 294.4h0M99.4 451.1h0M494.6 287.2h0M96.1 444.0h0M999.2 328.8h0M126.7 427.0h0M497.4 356.5h0M499.4 316.7h0M744.3 439.7h0M496.1 360.5h0M499.0 345.9h0M1012.6 350.3h0M101.8 446.7h0M1002.6 343.3h0M133.7 432.2h0M103.7 444.1h0M128.3 430.0h0M771.2 340.6h0M509.2 341.3h0M1017.9 362.2h0M1012.3 348.4h0M1014.4 358.7h0M507.8 316.3h0M510.6 301.0h0M1009.0 345.0h0M751.9 417.1h0M500.6 288.0h0M492.0 304.6h0M751.9 312.7h0M1014.4 350.6h0M509.2 349.1h0M502.8 356.7h0M745.2 355.2h0M498.5 321.2h0M1025.1 353.3h0M753.2 344.9h0M510.4 298.6h0M755.9 316.1h0M174.9 394.6h0M1027.6 345.0h0M151.9 339.5h0M113.3 456.9h0M497.4 325.5h0M1021.5 360.8h0M114.3 417.1h0M735.6 355.1h0M1033.9 353.2h0M99.8 443.0h0M111.4 442.4h0M1040.5 350.0h0M495.8 300.0h0M504.8 286.7h0M211.4 431.1h0M490.0 337.3h0M473.3 364.2h0M503.5 301.9h0M506.3 322.6h0M488.8 319.1h0M491.8 357.2h0M514.6 308.4h0" stroke="#6bea7c" stroke-width="4.5" stroke-linecap="round" fill="none"/>
<path d="M1001.7 335.3h0M738.4 314.9h0M535.0 392.5h0M1006.3 333.1h0M1007.5 314.8h0M471.2 374.2h0M771.2 394.6h0M515.6 323.4h0M731.5 318.7h0M745.9 319.1h0M507.4 278.0h0M520.3 284.7h0M1000.3 323.4h0M515.4 310.7h0M996.0 317.0h0M120.8 430.0h0M109.0 439.7h0M124.0 307.9h0M742.9 364.7h0M999.6 336.8h0M732.8 311.2h0M764.7 366.3h0M521.0 298.4h0M743.2 316.8h0M1011.7 319.2h0M998.6 315.3h0M104.7 405.3h0M105.8 432.2h0M510.2 305.2h0M1031.4 334.1h0M736.8 344.9h0M997.7 321.3h0M997.2 310.7h0M507.7 299.5h0M513.0 285.5h0M503.1 329.4h0M738.8 330.4h0M733.7 352.1h0M520.5 296.0h0M1006.1 323.0h0M1008.4 316.5h0M507.5 327.2h0M751.9 349.1h0M525.3 319.1h0M746.1 318.7h0M732.9 305.9h0M1004.6 297.6h0M511.3 286.9h0M1006.8 300.6h0M740.1 406.4h0M515.0 285.0h0M747.6 366.3h0M1008.9 306.1h0M1002.2 334.2h0M732.5 342.7h0M741.1 350.4h0M740.2 315.4h0M96.1 441.8h0M508.2 287.6h0M1015.0 332.2h0M189.9 407.5h0M509.0 342.2h0M109.0 387.1h0M730.4 327.7h0M530.7 347.0h0M506.4 298.6h0M510.5 297.3h0M512.4 296.0h0M1000.7 325.7h0M730.0 321.7h0M738.6 351.7h0M735.7 321.9h0M1015.3 301.9h0M736.8 353.4h0M100.4 444.0h0M740.8 318.2h0M516.7 285.8h0M734.9 355.2h0M999.3 308.4h0M995.9 310.5h0M749.5 357.9h0M697.1 332.0h0M741.1 349.1h0M1005.8 317.1h0M110.1 333.7h0M165.2 395.7h0M998.2 295.5h0M508.5 345.4h0M513.9 305.6h0M1013.2 357.7h0M97.2 451.5h0M199.6 429.0h0M100.4 386.0h0M509.2 269.7h0M729.9 312.0h0M447.6 366.3h0M1009.3 337.0h0M514.1 287.2h0M749.7 344.9h0M1015.3 327.7h0M128.3 406.4h0M745.4 405.3h0M745.4 340.6h0M1018.6 334.1h0M997.1 323.6h0M997.5 325.2h0M744.7 356.9h0M730.9 320.3h0M1020.7 329.8h0M1011.0 303.0h0M1010.2 324.5h0M1008.7 308.6h0M1009.9 336.9h0M755.1 432.2h0M1010.1 324.8h0M523.1 313.7h0M997.1 297.6h0M517.7 297.2h0M804.9 364.2h0M1008.9 325.5h0M1004.9 332.9h0M510.3 274.0h0M739.2 353.0h0M740.7 326.7h0M507.0 277.2h0M998.6 334.5h0M998.5 310.8h0M513.7 329.1h0M514.4 342.5h0M523.1 298.7h0M99.3 448.3h0M1023.9 332.0h0M113.3 405.3h0M513.8 282.4h0M1001.7 312.1h0M515.8 289.8h0M731.2 318.0h0M1006.5 330.4h0M133.7 405.3h0M174.9 387.1h0M1001.8 331.9h0M170.6 380.7h0M511.3 327.7h0M509.1 299.7h0M732.9 309.0h0M1011.5 330.2h0M736.3 363.0h0M519.9 277.2h0M1007.8 315.7h0M512.4 293.5h0M94.0 447.2h0M741.1 323.4h0M529.6 349.1h0M735.6 317.9h0M511.3 282.6h0M745.8 316.0h0M741.1 357.7h0M511.3 288.9h0M519.2 285.4h0M511.5 331.8h0M500.0 334.0h0M188.8 430.0h0M567.1 374.9h0M517.5 294.4h0M802.7 353.4h0M505.7 330.8h0M815.6 375.7h0M509.2 309.4h0M773.3 366.3h0M737.1 309.6h0M733.8 304.6h0M514.3 284.9h0M733.9 305.8h0M739.0 303.0h0M510.1 289.3h0M1048.6 330.9h0M732.2 326.4h0M504.9 290.0h0M751.9 357.7h0M747.6 327.7h0M747.9 321.9h0M995.9 308.4h0M999.0 326.4h0M517.8 291.2h0M512.4 317.0h0M1003.9 300.2h0M511.0 300.8h0M730.4 390.3h0M743.6 329.2h0M1004.0 338.2h0M730.4 313.7h0M506.4 324.1h0M1000.2 333.7h0M1014.8 329.0h0M740.9 325.8h0M509.0 312.9h0M734.6 320.0h0M742.1 322.7h0M509.7 341.9h0M522.1 286.9h0M523.1 293.3h0M507.0 314.8h0M743.3 364.2h0M733.3 308.2h0M101.5 451.5h0M520.5 306.9h0M1014.9 327.8h0M516.1 317.0h0M999.9 323.7h0M1001.8 299.3h0M747.0 357.9h0M734.4 305.0h0M1007.8 338.4h0M732.4 312.4h0M1003.4 335.6h0M504.5 297.0h0M509.1 278.3h0M100.4 342.7h0M521.0 309.4h0M746.1 310.9h0M511.9 327.1h0M104.7 445.1h0M1004.3 303.7h0M745.7 355.3h0M507.0 289.0h0M745.4 319.1h0M506.9 296.7h0M734.7 308.4h0M737.8 330.0h0M521.5 337.4h0M1013.5 321.1h0M739.6 327.2h0M521.5 296.0h0M517.8 306.9h0M737.0 327.7h0M174.9 418.2h0M102.5 435.4h0M518.3 299.6h0M1002.6 308.2h0M500.6 338.6h0M1032.5 357.7h0M740.2 319.0h0M732.2 319.8h0M1007.3 313.6h0M166.3 380.7h0M1010.9 326.0h0M1030.4 330.9h0M514.9 299.0h0M1031.4 350.2h0M525.3 390.7h0M994.5 325.1h0M735.0 323.4h0M999.1 336.8h0M728.2 323.4h0M99.3 340.1h0M1013.2 335.2h0M1010.0 313.6h0M1007.1 327.7h0M737.5 310.7h0M506.0 329.8h0M509.6 276.1h0M754.0 429.0h0M176.0 390.3h0M726.1 433.2h0M515.4 335.0h0M106.8 448.3h0M516.8 296.8h0M1009.5 323.0h0M507.7 298.3h0M514.7 316.7h0M1012.9 321.8h0M510.0 294.4h0M740.5 349.8h0M519.9 297.6h0M510.6 299.7h0M514.6 280.5h0" stroke="#c6f25a" stroke-width="4.5" stroke-linecap="round" fill="none"/>
<path d="M727.5 456.5h0M736.6 429.9h0M1022.2 417.5h0M531.1 465.2h0M1007.4 433.5h0M63.9 372.1h0M1018.8 421.6h0M526.1 424.0h0M497.4 430.0h0M741.1 459.0h0M49.6 359.3h0M729.8 463.5h0M734.2 451.5h0M85.4 392.5h0M740.1 436.5h0M1024.4 401.2h0M1005.8 431.2h0M751.9 410.7h0M724.6 454.3h0M1012.9 432.4h0M1004.7 421.6h0M528.6 438.9h0M1015.3 390.3h0M1005.7 376.4h0M742.2 426.8h0M726.8 463.4h0M724.0 446.1h0M525.6 455.9h0M67.0 362.6h0M515.6 426.8h0M516.7 422.5h0M538.0 442.7h0M59.1 354.3h0M530.7 461.1h0M1000.3 417.3h0M1025.6 397.2h0M727.4 454.8h0M212.4 357.7h0M533.9 465.4h0M543.5 446.1h0M525.9 464.3h0M745.4 429.0h0M743.3 411.8h0M56.9 363.6h0M742.9 420.0h0M1048.0 415.4h0M1004.6 435.4h0M534.1 442.6h0M535.5 439.8h0M87.5 380.7h0M730.4 461.1h0M745.8 432.9h0M728.4 461.8h0M1004.8 429.2h0M99.3 309.4h0M146.5 397.8h0M523.0 427.7h0M61.6 358.5h0M526.4 446.1h0M734.1 466.8h0M725.3 458.3h0M728.4 447.0h0M1003.4 422.1h0M1002.7 419.2h0M530.7 412.9h0M528.5 465.4h0M515.6 417.1h0M523.6 456.1h0M1014.8 418.1h0M1016.6 433.0h0M748.6 401.0h0M526.7 448.2h0M1026.1 392.5h0M129.4 416.1h0M1006.6 416.3h0M743.2 417.8h0M739.0 422.5h0M1006.3 420.2h0M77.9 386.0h0M539.2 466.5h0M743.3 445.1h0M527.2 455.5h0M750.8 408.6h0M510.3 340.6h0M528.1 458.9h0M1018.9 398.0h0M521.9 449.7h0M526.0 460.9h0M48.5 359.8h0M746.5 338.0h0M1021.9 392.6h0M530.7 470.8h0M1029.3 411.8h0M733.0 466.6h0M1011.7 427.9h0M732.8 451.7h0M522.1 433.2h0M180.9 335.2h0M1016.0 412.0h0M530.6 455.0h0M1021.5 398.6h0M522.1 430.0h0M53.1 364.4h0M528.4 427.2h0M511.3 304.1h0M747.6 415.0h0M1026.7 395.6h0M1024.4 396.6h0M732.5 452.6h0M514.6 439.7h0M1032.5 403.2h0M1018.4 422.4h0M1009.3 433.5h0M49.8 359.3h0M491.0 336.3h0M1018.4 430.0h0M524.8 425.8h0M81.1 379.6h0M1027.7 395.0h0M739.9 457.6h0M725.2 450.9h0M500.6 431.1h0M1002.2 416.0h0M538.4 464.2h0M532.8 441.8h0M524.2 438.3h0M100.4 315.9h0M744.2 425.6h0M726.2 465.7h0M1017.9 417.5h0M517.1 422.4h0M57.9 359.8h0M98.2 312.7h0M71.4 348.1h0M736.8 446.1h0M63.5 363.5h0M51.4 363.9h0M1009.5 430.7h0M734.7 435.4h0M98.2 322.3h0M1014.3 406.4h0M1009.1 431.7h0M1004.6 431.5h0M533.5 431.5h0M1012.3 428.8h0M53.2 374.2h0M527.5 428.4h0M1014.0 417.0h0M56.9 362.8h0M64.8 364.0h0M535.0 469.7h0M1003.0 432.0h0M59.9 351.6h0M506.0 439.7h0M747.1 420.6h0M743.2 410.7h0M723.2 451.6h0M747.6 437.5h0M535.9 441.7h0M1028.4 399.1h0M51.7 356.9h0M507.0 344.9h0M998.0 422.9h0M1026.1 394.2h0M541.4 461.1h0M95.0 308.4h0M735.5 454.1h0M55.8 348.3h0M60.9 362.9h0M1011.0 420.1h0M730.0 458.1h0M1001.3 429.9h0M197.4 425.7h0M537.1 451.5h0M100.4 425.7h0M528.6 439.9h0M97.2 303.0h0M1015.3 386.0h0M74.6 380.7h0M527.5 452.0h0M728.6 466.1h0M191.0 335.8h0M1013.7 411.9h0M115.4 406.4h0M734.8 468.5h0M525.3 455.8h0M532.8 448.3h0M1061.5 405.8h0M525.2 438.7h0M98.2 295.9h0M727.2 451.6h0M83.2 375.3h0M528.5 425.7h0M519.4 432.6h0M539.8 448.9h0M1001.5 424.4h0M530.7 454.7h0M1014.6 432.4h0M529.7 465.3h0M1008.1 432.3h0M528.5 398.9h0M533.6 465.9h0M478.1 365.2h0M125.1 339.5h0M744.2 438.9h0M741.1 450.4h0M737.1 432.7h0M535.6 454.6h0M517.3 423.5h0M85.4 424.7h0M94.0 300.9h0M164.1 353.4h0M522.7 448.2h0M1022.1 416.6h0M56.5 347.5h0M53.1 366.8h0M747.6 446.1h0M1025.7 395.5h0M55.7 356.6h0M1028.3 398.5h0M493.1 435.4h0M1002.0 428.4h0M741.1 416.1h0M536.0 462.2h0M1012.5 430.6h0M756.1 397.8h0M93.5 296.6h0M51.3 358.9h0M741.1 458.7h0M525.2 442.3h0M66.3 352.3h0M1021.9 394.3h0M63.8 357.8h0M1002.7 417.0h0M56.9 362.2h0M525.2 439.9h0M525.8 460.1h0M1015.8 425.5h0M746.6 417.5h0M524.2 439.7h0M533.9 413.9h0M102.5 298.7h0M541.3 452.1h0M518.3 422.7h0M494.2 430.0h0M1010.7 413.1h0M66.1 363.5h0M1016.1 416.9h0M1022.8 417.5h0M68.6 357.2h0M65.7 350.6h0M746.2 410.2h0M63.4 360.2h0M1021.3 415.0h0M1010.6 413.3h0M725.3 454.0h0M723.9 452.8h0M741.7 433.0h0M541.3 452.5h0M725.1 454.5h0M1018.6 393.5h0M1016.3 420.5h0M737.9 448.3h0M1002.9 416.5h0M522.1 418.2h0M747.9 433.8h0M739.7 452.6h0M735.7 455.6h0M526.4 417.1h0M66.5 349.9h0M74.6 349.1h0M721.8 448.3h0M1009.9 414.6h0M1007.7 418.2h0M539.2 444.0h0M733.6 448.8h0M732.9 446.1h0M120.8 366.3h0M737.9 417.1h0M519.9 441.8h0M1019.0 421.1h0M752.9 404.3h0M541.4 464.4h0M71.6 360.2h0M727.5 446.6h0M530.3 460.3h0M726.1 446.1h0M149.8 397.8h0M526.2 438.6h0M55.0 364.2h0M47.0 357.1h0M58.8 348.6h0M68.2 358.2h0M525.3 423.9h0M727.4 448.8h0M1010.3 414.5h0M97.2 319.1h0M727.3 457.1h0M737.8 461.2h0M536.3 444.9h0M519.9 454.7h0M739.0 441.8h0M513.5 400.0h0M1012.5 433.8h0M526.5 456.2h0M726.7 454.8h0M740.3 435.2h0M50.9 363.4h0M518.9 420.4h0M100.4 305.1h0M732.8 467.5h0M736.6 462.6h0M744.8 430.1h0M535.0 456.9h0M542.5 452.6h0M731.1 455.6h0M59.7 348.2h0M1017.5 364.2h0M535.3 448.9h0M1011.2 426.3h0M746.5 433.2h0M48.8 359.8h0M1010.2 420.8h0M1008.7 422.3h0M738.9 459.9h0M70.5 363.1h0M739.1 460.4h0M49.3 351.4h0M739.0 431.1h0M539.3 445.2h0M736.8 426.8h0M749.4 428.4h0M526.2 442.9h0M736.0 449.8h0M514.6 388.2h0M57.5 372.7h0M522.4 457.6h0M61.7 361.2h0M999.9 423.6h0M744.9 407.3h0M101.5 298.7h0M739.9 455.9h0M49.1 363.4h0M740.8 406.3h0M521.8 424.1h0M737.9 467.6h0M537.2 456.6h0M509.2 299.8h0M547.8 396.8h0M1004.7 432.5h0M121.9 335.2h0M1011.1 416.1h0M538.2 471.9h0M540.3 456.9h0M732.2 458.5h0M736.3 465.1h0M523.1 424.7h0M519.3 436.9h0M539.7 448.9h0M119.7 330.9h0M518.7 436.4h0M517.2 422.4h0M524.6 421.5h0M116.5 419.3h0M62.2 361.9h0M519.9 426.8h0M528.5 439.7h0M1009.8 433.2h0M518.9 446.1h0M729.6 446.5h0M730.4 469.7h0M734.2 464.6h0M1023.9 425.6h0M90.7 386.0h0M89.7 301.9h0M1006.9 429.5h0M732.5 417.1h0M68.2 344.9h0M733.4 449.4h0M734.7 465.4h0M68.2 375.3h0M532.3 462.3h0M731.9 450.3h0M1014.3 381.7h0M55.6 367.1h0M53.8 363.4h0M998.2 433.2h0M1014.6 429.7h0M1018.3 429.7h0M504.9 310.5h0M1022.5 393.6h0M67.7 363.3h0M502.8 434.3h0M1020.9 421.8h0M999.6 425.4h0M1004.2 413.0h0M1009.8 424.2h0M535.9 454.8h0M728.2 454.7h0M1025.4 398.7h0M517.3 420.6h0M1009.0 414.9h0M532.8 465.7h0M735.7 458.7h0" stroke="#f6d43f" stroke-width="4.5" stroke-linecap="round" fill="none"/>
<path d="M1062.5 403.1h0M136.5 299.8h0M776.4 404.9h0M1062.4 433.1h0M1070.1 420.4h0M1049.7 412.9h0M1068.6 405.6h0M198.5 368.9h0M1060.2 424.4h0M1068.0 420.7h0M111.1 354.5h0M481.3 403.2h0M1069.9 421.9h0M541.4 386.0h0M110.1 333.1h0M1062.5 421.3h0M494.2 398.9h0M493.3 409.5h0M116.5 343.8h0M503.0 415.4h0M454.0 413.9h0M1071.2 420.7h0M1063.0 432.5h0M1069.6 415.2h0M777.9 405.1h0M471.2 382.8h0M496.6 407.9h0M1062.0 426.4h0M1071.9 430.7h0M492.0 417.1h0M107.9 353.4h0M90.7 380.7h0M778.2 421.8h0M481.0 404.3h0M1061.8 422.5h0M530.7 433.2h0M1060.0 432.0h0M775.5 392.5h0M502.8 341.6h0M1059.4 410.6h0M491.7 407.4h0M487.7 392.5h0M121.9 396.8h0M143.3 357.7h0M195.3 322.3h0M484.5 365.2h0M774.7 412.9h0M1061.0 413.1h0M459.4 403.2h0M92.9 376.4h0M1056.0 430.1h0M502.7 410.1h0M781.9 424.7h0M74.2 334.6h0M775.1 402.2h0M788.3 386.0h0M488.8 411.8h0M1060.9 422.7h0M778.4 407.0h0M1062.9 437.1h0M1063.1 409.8h0M1053.6 414.7h0M735.8 432.2h0M492.8 407.7h0M1060.5 426.0h0M734.7 383.9h0M780.9 401.9h0M483.4 383.9h0M473.3 392.5h0M56.4 348.1h0M485.6 398.9h0M490.9 395.3h0M1062.1 405.5h0M1060.9 421.7h0M1068.8 413.9h0M1052.3 420.0h0M1070.7 404.1h0M498.5 405.3h0M112.2 357.7h0M1060.0 403.5h0M1067.5 418.2h0M758.3 392.5h0M1052.3 415.9h0M1067.1 435.6h0M504.9 417.1h0M1059.9 425.0h0M112.2 441.8h0M1070.6 426.0h0M489.9 388.2h0M1062.7 426.3h0M775.2 402.8h0M781.1 418.6h0M149.8 366.3h0M202.8 318.0h0M496.3 408.4h0M774.1 416.6h0M186.7 316.5h0M730.4 385.0h0M1071.5 420.5h0M1073.3 413.9h0M488.3 397.3h0M91.4 298.7h0M131.5 385.0h0M775.5 422.5h0M782.6 418.3h0M510.3 362.0h0M1061.8 418.9h0M1069.1 408.0h0M176.0 368.0h0M480.3 399.0h0M57.5 356.7h0M100.4 382.8h0M489.9 403.2h0M461.5 396.8h0M1064.7 446.1h0M479.1 411.8h0M1058.7 432.0h0M1069.4 433.7h0M734.7 446.1h0M528.5 459.0h0M780.3 406.0h0M494.5 405.8h0M1070.5 426.8h0M500.6 416.1h0M1075.0 420.9h0M501.6 411.8h0M771.2 394.6h0M1057.6 433.8h0M88.6 305.8h0M1056.1 420.7h0M458.3 411.8h0M155.1 359.9h0M480.6 402.7h0M1056.2 416.8h0M792.4 388.2h0M1062.8 435.7h0M1069.7 412.6h0M532.8 407.5h0M779.8 390.3h0M776.4 402.6h0M1068.6 404.2h0M1069.0 441.8h0M539.2 395.7h0M771.1 413.5h0M509.2 358.8h0M129.4 389.2h0M1055.4 412.8h0M774.9 410.1h0M1069.8 412.5h0M462.6 381.7h0M784.1 418.2h0M480.8 394.0h0M516.7 433.2h0M1063.0 434.5h0M1053.2 424.9h0M120.8 392.5h0M1054.3 424.4h0M1057.4 425.2h0M473.3 409.6h0M454.0 378.5h0M783.0 381.7h0M475.5 403.2h0M1057.2 382.8h0M497.3 402.7h0M479.1 381.7h0M489.3 393.0h0M447.6 435.4h0M1064.3 437.3h0M1051.8 422.5h0M774.3 411.4h0M772.1 415.1h0M105.8 374.2h0M128.3 383.9h0M784.1 388.2h0M100.4 377.4h0M769.4 406.0h0M502.2 407.3h0M745.4 392.5h0M1081.9 406.4h0M104.7 315.2h0M751.9 362.0h0M107.9 343.8h0M180.2 356.7h0M1070.9 411.8h0M170.6 351.3h0M477.0 407.5h0M129.4 409.6h0M154.1 403.2h0M1071.9 426.9h0M483.4 394.6h0M772.6 403.1h0M773.3 398.9h0M777.2 400.7h0M482.5 407.1h0M1054.6 415.0h0M1035.7 401.7h0M89.7 308.4h0M769.6 406.8h0M758.3 411.8h0M503.8 394.6h0M123.6 301.9h0M497.4 411.8h0M782.3 412.9h0M1055.4 415.3h0M1078.7 409.6h0M458.3 417.1h0M782.4 407.7h0M60.7 349.1h0M1061.5 401.0h0M1067.7 417.2h0M494.5 400.1h0M777.0 421.9h0M779.9 410.3h0M1065.6 418.9h0M106.8 359.9h0M1077.6 422.5h0M499.0 414.0h0M764.7 358.8h0M481.6 399.5h0M783.6 405.1h0M471.2 411.8h0M1066.3 426.8h0M87.5 347.0h0M1075.4 426.8h0M786.2 394.6h0M775.2 410.3h0M86.4 354.5h0M1071.9 424.3h0M766.9 389.2h0M1063.3 412.2h0M486.0 392.4h0M1063.0 416.2h0M496.0 409.7h0M1067.7 432.8h0M515.6 416.1h0M114.3 340.6h0M778.6 420.1h0M91.8 335.2h0M1055.0 412.4h0M1063.9 426.9h0M752.9 425.7h0M126.1 401.0h0M766.9 421.4h0M105.8 347.0h0M774.2 410.9h0M783.2 409.1h0M522.1 355.2h0M777.0 412.8h0M120.8 435.4h0M769.0 403.2h0M774.9 419.4h0M1064.6 422.2h0M548.9 352.8h0M809.6 310.9h0M88.6 411.8h0M1057.7 402.9h0M769.0 416.1h0M1074.8 415.4h0M1060.0 414.5h0M756.1 422.5h0M523.1 450.4h0M485.8 411.1h0M213.1 338.8h0M490.2 400.5h0M92.2 394.6h0M1063.4 425.3h0M113.3 327.7h0M486.7 406.4h0M496.3 426.8h0M112.2 337.3h0M178.1 377.0h0M483.1 397.4h0M775.8 407.8h0M771.6 405.0h0M126.1 391.4h0M124.0 394.6h0M1079.7 403.2h0M451.9 432.2h0M485.7 409.0h0M1058.4 424.7h0M1069.3 401.6h0M1059.9 404.2h0M500.6 408.6h0M536.0 392.5h0M778.6 400.9h0M1070.2 413.4h0M535.0 397.8h0M750.8 435.4h0M779.1 421.3h0M110.1 362.0h0M62.8 375.3h0M803.8 356.7h0M1073.5 415.0h0M781.9 398.9h0M1070.7 411.1h0M94.0 330.9h0M783.4 410.4h0M493.5 409.3h0M1067.4 429.9h0M494.2 391.4h0M195.9 315.9h0M1068.7 419.5h0M509.2 400.0h0M733.6 374.2h0M782.4 420.2h0M502.3 416.7h0M1029.9 395.7h0M494.2 422.5h0M1073.3 384.3h0M779.5 403.4h0" stroke="#5ad8f2" stroke-width="4.5" stroke-linecap="round" fill="none"/>
<path d="M151.9 345.9h0M689.6 333.1h0M568.2 326.8h0M146.7 282.5h0M482.4 386.5h0M1072.1 305.7h0M1075.7 295.8h0M575.7 325.5h0M1067.7 302.8h0M1074.4 327.7h0M1062.7 316.9h0M1075.5 294.5h0M559.6 336.3h0M134.3 273.5h0M1061.3 308.9h0M564.4 326.6h0M682.5 338.3h0M778.7 366.3h0M573.6 353.4h0M1047.5 334.1h0M709.4 347.5h0M1057.1 319.2h0M686.0 348.8h0M1060.3 315.5h0M681.5 343.3h0M750.8 326.6h0M694.8 352.2h0M584.3 334.1h0M1055.7 318.3h0M1054.9 325.1h0M1056.9 325.1h0M569.3 327.1h0M142.2 270.7h0M1072.8 294.5h0M137.8 272.8h0M710.7 349.1h0M557.5 314.8h0M131.0 286.7h0M1066.5 310.2h0M1069.6 287.8h0M435.8 369.5h0M1063.7 313.5h0M1066.8 290.5h0M709.5 348.8h0M1076.7 285.5h0M139.5 298.3h0M571.4 344.9h0M590.8 345.9h0M146.9 285.4h0M691.9 342.5h0M543.5 323.4h0M558.0 317.5h0M566.4 325.9h0M686.9 343.3h0M1057.6 324.6h0M704.1 343.6h0M178.1 396.8h0M1056.3 326.8h0M1062.0 307.6h0M147.6 366.3h0M124.0 365.2h0M684.7 345.7h0M136.9 451.5h0M1060.2 312.1h0M147.6 341.6h0M513.5 357.7h0M1016.4 301.9h0M140.1 380.7h0M1062.7 319.0h0M1065.9 285.3h0M137.7 280.4h0M555.2 319.5h0M547.8 320.2h0M1059.3 314.6h0M585.7 329.6h0M580.3 334.0h0M564.3 320.1h0M142.2 292.4h0M697.0 346.4h0M1070.7 282.7h0M1071.8 312.8h0M575.7 349.1h0M551.1 327.7h0M577.5 329.7h0M1066.5 292.2h0M1072.5 306.2h0M567.1 314.8h0M551.7 325.1h0M1066.9 314.8h0M498.5 351.3h0M1060.8 314.5h0M1077.7 280.6h0M198.5 433.2h0M781.9 359.9h0M1076.9 287.0h0M1072.5 284.3h0M706.3 342.1h0M686.4 341.8h0M588.6 329.8h0M739.0 377.4h0M155.1 374.2h0M1076.2 278.0h0M703.7 342.9h0M1066.4 293.3h0M448.7 339.5h0M713.6 344.4h0M692.3 340.9h0M141.0 275.3h0M710.8 339.2h0M137.8 279.6h0M695.6 339.8h0M1057.5 319.9h0M574.7 328.1h0M565.7 325.1h0M133.8 286.3h0M709.4 346.8h0M220.0 398.9h0M147.6 330.9h0M153.0 330.9h0M698.7 350.2h0M1068.0 293.4h0M1077.6 288.9h0M569.3 328.8h0M693.5 351.8h0M154.1 351.3h0M584.3 344.9h0M1056.8 310.3h0M713.2 347.0h0M554.4 327.1h0M700.6 348.5h0M140.1 366.3h0M1062.9 297.3h0M1062.4 327.1h0M1062.2 323.1h0M1072.6 295.7h0M693.2 342.9h0M704.8 344.8h0M690.0 337.3h0M572.7 320.4h0M557.6 321.8h0M493.1 341.6h0M1057.8 320.7h0M703.4 341.1h0M690.4 343.5h0M712.8 343.4h0M1060.2 318.4h0M682.7 339.0h0M561.8 314.8h0M1060.8 325.7h0M151.9 364.2h0M1073.7 280.6h0M679.3 341.9h0M582.3 319.7h0M696.0 334.1h0M1049.7 327.7h0M588.6 322.3h0M706.9 347.8h0M1068.7 277.5h0M1055.9 312.5h0M707.9 357.7h0M148.7 354.5h0M586.3 332.4h0M173.8 334.1h0M1076.4 278.8h0M577.9 342.7h0M580.0 351.3h0M687.0 344.7h0M140.7 307.3h0M1068.9 284.6h0M1077.3 279.3h0M695.8 334.3h0M724.0 365.2h0M138.0 305.1h0M1055.2 303.1h0M143.3 298.3h0M705.7 353.4h0M563.9 329.4h0M126.1 368.5h0M473.3 356.7h0M681.9 343.6h0M1056.6 297.4h0M682.5 348.3h0M130.4 358.2h0M1071.0 312.1h0M1060.3 317.3h0M577.5 331.2h0M150.8 310.5h0M1074.0 278.6h0M522.1 333.1h0M147.6 315.2h0M145.0 284.5h0M685.6 337.5h0M588.6 349.1h0M132.6 379.6h0M698.9 344.8h0M1055.8 308.6h0M566.5 331.0h0M506.0 338.4h0M587.1 327.8h0M1078.7 284.8h0M577.9 334.1h0M150.8 335.2h0M1062.6 321.0h0M710.0 349.1h0M109.0 390.3h0M1066.0 284.9h0M139.2 289.1h0M678.9 349.1h0M1061.8 316.0h0M681.1 342.4h0M1061.5 315.3h0M126.1 454.7h0M555.7 316.8h0M749.7 342.7h0M686.4 335.2h0M1058.3 293.3h0M585.4 327.7h0M1062.6 335.2h0M695.0 342.4h0M1073.0 295.1h0M1075.4 279.4h0M131.5 387.1h0M137.5 289.2h0M554.3 323.4h0M571.4 319.1h0M1075.6 284.6h0M83.2 391.4h0M153.0 315.9h0M554.8 321.0h0M1060.2 302.6h0M689.5 347.8h0M567.4 320.4h0M711.1 342.7h0M686.5 337.1h0M702.5 351.3h0M1072.8 286.8h0M153.0 356.7h0M694.9 353.3h0M682.8 348.6h0M1067.3 305.8h0M567.1 323.4h0M521.0 352.4h0M552.5 318.9h0M685.3 348.0h0M131.3 275.1h0M698.4 335.9h0M747.1 411.4h0M1068.8 315.8h0M775.5 364.2h0M1056.5 313.4h0M141.2 355.6h0M1061.2 311.9h0M170.6 329.4h0M751.9 349.1h0M135.8 325.5h0M1069.9 277.8h0M686.1 344.2h0M1054.0 323.4h0M173.8 362.0h0M572.5 334.1h0M730.4 315.9h0M689.2 340.7h0M584.3 320.2h0M1058.3 309.2h0M1061.2 325.4h0M687.2 341.9h0M124.4 299.4h0M556.4 386.5h0M1067.2 291.4h0M149.3 306.6h0M577.1 320.1h0M779.8 370.6h0M1064.9 315.8h0M186.7 388.2h0M692.7 338.2h0M747.6 362.0h0M570.4 312.7h0M146.5 327.7h0M1055.0 311.5h0M1050.8 344.9h0M584.6 332.5h0M695.6 335.4h0M144.5 275.6h0M580.0 327.7h0M1051.8 304.1h0M1059.5 324.5h0M690.6 348.1h0M133.7 446.1h0M124.0 373.1h0M133.8 285.1h0M692.1 348.0h0M562.9 317.0h0M145.8 279.3h0M737.9 351.3h0M192.0 351.3h0M683.2 351.3h0M1058.6 303.2h0M1069.0 307.3h0M476.6 329.8h0M705.3 341.8h0M145.5 347.0h0M519.9 327.7h0M693.7 353.1h0M139.2 292.9h0M142.9 291.8h0M553.5 321.1h0M707.9 338.4h0M522.1 391.4h0M706.8 364.2h0M688.4 351.0h0M1059.3 323.3h0M552.1 317.0h0M739.0 353.4h0M558.6 321.2h0M559.0 325.8h0M697.2 342.9h0M1067.9 335.2h0M574.7 329.8h0M80.6 335.2h0M141.9 277.2h0M1063.0 304.4h0M195.3 437.5h0M1056.2 313.8h0M727.2 319.1h0M1066.1 307.8h0M1064.2 324.9h0M568.3 328.8h0M558.7 321.8h0M1071.6 292.8h0M144.4 312.7h0M1048.6 336.3h0M141.2 405.3h0M575.9 325.6h0M136.7 290.3h0M138.4 291.9h0M111.1 436.5h0M1069.2 277.2h0M125.1 293.3h0M1067.9 308.7h0M745.4 355.6h0M680.2 348.1h0M580.0 321.2h0M570.2 325.4h0M512.4 269.3h0M567.0 333.3h0M562.5 326.1h0M1071.1 278.8h0M552.6 319.6h0M1055.1 297.6h0M147.4 283.0h0M686.5 342.1h0M133.1 278.7h0M689.2 340.1h0M691.7 342.9h0M754.0 343.8h0M760.4 335.2h0M1060.3 297.1h0M1062.9 296.1h0M144.4 334.1h0M545.7 329.8h0M1073.3 297.6h0M1062.8 309.9h0M681.0 337.3h0M1062.7 314.8h0M581.0 323.8h0M586.7 330.9h0M575.7 318.0h0M707.4 345.2h0M1075.9 282.4h0M558.6 341.6h0M478.1 329.8h0" stroke="#ed8632" stroke-width="4.5" stroke-linecap="round" fill="none"/>
<path d="M1192.4 362.6h0M1177.8 339.5h0M855.1 358.8h0M1214.5 349.9h0M196.3 431.1h0M1203.1 347.7h0M215.7 416.1h0M376.8 321.2h0M1198.9 361.7h0M1189.0 355.0h0M184.5 380.7h0M848.9 357.2h0M860.8 357.1h0M411.1 329.8h0M1203.2 359.9h0M218.7 423.7h0M196.3 424.7h0M390.7 339.6h0M857.3 356.4h0M386.0 354.3h0M848.3 378.2h0M1191.2 348.8h0M845.1 375.8h0M398.2 349.1h0M865.3 362.7h0M164.1 337.3h0M192.0 426.8h0M857.6 362.6h0M864.0 353.5h0M858.7 361.5h0M397.1 365.2h0M384.3 344.8h0M221.0 357.7h0M210.3 413.9h0M479.6 330.9h0M836.0 377.6h0M390.4 355.3h0M157.3 335.2h0M840.5 375.8h0M445.4 365.2h0M845.6 375.9h0M855.6 361.9h0M378.9 329.8h0M218.9 390.3h0M846.0 355.1h0M813.5 376.4h0M863.2 356.3h0M1203.2 348.7h0M1214.9 360.9h0M1209.2 349.6h0M385.3 349.1h0M410.2 344.4h0M393.9 357.7h0M824.2 375.3h0M465.8 378.5h0M1187.9 357.7h0M835.4 376.2h0M1210.6 355.8h0M844.1 357.1h0M207.1 406.4h0M1198.1 346.8h0M1203.4 346.5h0M381.0 419.3h0M422.9 342.7h0M419.7 355.6h0M423.6 359.2h0M1217.2 361.0h0M211.4 408.6h0M230.7 403.2h0M866.2 361.6h0M183.5 422.5h0M856.0 356.4h0M226.4 430.0h0M1218.1 352.3h0M1196.1 340.6h0M222.1 440.8h0M216.1 425.8h0M1213.0 351.3h0M1207.9 356.6h0M142.2 388.2h0M1212.2 366.3h0M837.1 285.8h0M1190.7 292.3h0M840.5 381.1h0M244.6 439.7h0M381.3 341.9h0M218.9 406.4h0M868.3 363.9h0M1192.3 361.0h0M217.8 431.1h0M1204.7 371.0h0M396.2 349.6h0M1206.8 353.7h0M874.6 407.5h0M200.6 429.0h0M210.1 413.8h0M846.9 377.8h0M147.6 425.7h0M1199.2 348.6h0M170.6 388.2h0M424.3 348.1h0M862.8 353.4h0M424.5 359.7h0M398.1 350.2h0M246.8 422.5h0M391.9 351.1h0M830.6 368.5h0M390.3 338.0h0M836.0 344.9h0M867.5 365.1h0M208.7 418.9h0M424.0 357.7h0M201.7 405.3h0M382.8 352.3h0M1206.9 347.7h0M413.7 343.2h0M843.3 371.1h0M381.0 336.3h0M220.0 412.9h0M1199.6 362.6h0M845.7 355.6h0M426.1 351.3h0M849.0 374.6h0M860.7 348.1h0M401.4 308.4h0M843.6 365.9h0M220.0 420.4h0M218.9 425.7h0M855.5 354.3h0M415.4 359.9h0M856.4 372.1h0M845.5 374.6h0M426.6 346.4h0M863.1 365.2h0M215.6 426.3h0M395.0 351.3h0M393.6 354.0h0M864.5 357.6h0M1207.8 361.1h0M846.3 362.3h0M419.7 362.0h0M243.6 420.4h0M238.2 374.2h0M1211.1 349.6h0M859.2 362.6h0M855.6 367.8h0M163.1 320.2h0M429.1 344.3h0M206.6 428.6h0M844.6 383.9h0M851.8 353.6h0M854.0 363.1h0M838.1 367.4h0M213.5 424.7h0M389.1 330.7h0M421.8 349.1h0M1202.8 362.2h0M853.0 357.7h0M189.9 417.1h0M1206.9 362.1h0M414.3 366.3h0M260.7 468.7h0M417.5 344.9h0M207.1 422.5h0M215.4 426.7h0M224.2 423.6h0M197.4 435.4h0M1176.8 335.2h0M1205.5 357.8h0M1205.7 359.3h0M862.0 358.8h0M840.3 292.3h0M842.1 374.6h0M844.7 358.2h0M850.0 366.3h0M204.9 426.8h0M1201.2 349.5h0M838.1 379.5h0M221.1 426.1h0M231.8 398.9h0M187.8 411.8h0M219.8 420.6h0M1191.3 349.7h0M1188.6 353.4h0M1139.2 422.5h0M863.0 364.1h0M1206.1 365.7h0M1199.7 348.1h0M1191.0 360.4h0M1214.3 343.8h0M183.5 411.8h0M832.8 372.1h0M1193.7 351.5h0M138.6 335.8h0M400.4 343.8h0M850.3 374.4h0M389.3 356.4h0M1193.3 349.4h0M387.0 338.6h0M375.7 323.4h0M843.5 338.4h0M427.9 341.5h0M860.7 348.1h0M407.9 420.4h0M840.3 359.9h0M1206.7 359.4h0M856.5 355.6h0M853.6 352.8h0M396.1 362.0h0M423.7 352.2h0M212.4 416.5h0M1204.8 347.5h0M432.6 357.7h0M376.8 334.1h0M836.6 379.0h0M1214.7 351.1h0M232.8 450.4h0M417.5 336.3h0M388.6 335.2h0M396.1 344.9h0M420.9 341.0h0M1199.1 364.7h0M215.7 436.5h0M190.3 424.1h0M389.6 354.5h0M228.5 409.6h0M387.5 342.7h0M228.5 427.9h0M1146.7 433.2h0M215.1 422.1h0M826.3 372.1h0M849.8 378.4h0M244.6 459.0h0M433.6 368.5h0M849.4 380.2h0M423.5 353.2h0M145.5 383.9h0M243.6 424.7h0M1144.6 425.7h0M422.8 355.5h0M1192.5 349.8h0M1213.1 359.4h0M386.2 350.4h0M254.3 444.0h0M381.0 347.0h0M853.2 356.6h0M859.9 357.6h0M209.2 417.4h0M383.5 345.3h0M420.3 365.9h0M424.0 364.2h0M401.4 353.4h0M154.1 340.1h0M187.8 427.9h0M391.8 343.8h0M187.8 422.5h0M210.3 430.3h0M395.9 336.1h0M214.0 430.7h0M845.5 372.5h0M415.4 353.4h0M223.1 425.8h0M224.2 417.1h0M425.8 363.1h0M1192.0 355.7h0M382.9 337.8h0M384.3 330.9h0M153.0 328.8h0M166.3 388.2h0M849.8 375.9h0M845.3 376.5h0M1195.3 347.9h0M861.7 357.7h0M214.8 414.3h0M1197.0 364.5h0M1201.4 368.5h0M866.2 360.9h0M839.2 381.7h0M226.4 404.3h0M848.6 377.4h0M250.0 447.2h0M194.2 420.4h0M201.7 363.1h0M865.3 358.0h0M850.3 365.6h0M390.7 350.2h0M482.4 326.2h0M1212.6 357.2h0M1141.3 426.8h0M470.1 356.7h0M181.3 420.4h0M552.1 314.4h0M436.9 358.8h0M212.4 414.0h0M855.7 369.6h0M184.5 334.8h0M389.0 345.4h0M1194.0 348.3h0M210.3 437.5h0M869.3 366.3h0M1203.5 358.6h0M217.3 421.3h0M416.6 357.4h0M228.5 439.7h0M1199.8 350.1h0M218.9 366.3h0M411.5 358.3h0M1191.8 361.2h0M848.0 368.6h0M845.7 355.9h0M204.9 417.1h0M228.5 398.9h0M458.3 385.0h0M244.6 465.4h0M1216.1 362.3h0M1220.8 353.4h0M222.1 434.3h0M211.4 429.0h0M1195.7 347.0h0M199.3 427.6h0M389.6 327.7h0M1217.7 355.7h0M1214.4 353.3h0M419.7 339.5h0M142.2 392.5h0M861.9 366.2h0M851.0 366.8h0M861.2 367.2h0M426.1 344.9h0M429.3 353.4h0M215.7 410.7h0M1189.6 356.6h0M406.8 359.9h0M1197.2 358.0h0M383.2 341.6h0M853.1 358.7h0M142.2 385.0h0M867.1 359.9h0M181.3 397.8h0M383.2 352.4h0M199.6 419.3h0M852.5 361.0h0M865.0 372.1h0M1204.1 354.2h0M1203.6 355.6h0M385.3 338.4h0M856.4 368.5h0M858.4 354.6h0M419.8 337.3h0M862.6 363.8h0M206.0 358.8h0M862.0 364.1h0M219.3 420.3h0M1200.1 361.0h0M1183.2 311.2h0M1186.4 357.7h0M1196.9 353.5h0M424.5 348.1h0" stroke="#8d3ff0" stroke-width="4.5" stroke-linecap="round" fill="none"/>
<path d="M1171.4 457.2h0M404.0 425.0h0M1160.6 443.6h0M1175.7 469.7h0M403.1 432.9h0M417.5 421.4h0M383.2 437.5h0M226.4 373.1h0M1175.7 444.0h0M402.1 439.9h0M809.2 357.7h0M1143.5 431.1h0M1166.4 469.1h0M199.6 415.0h0M1164.5 466.7h0M826.3 366.3h0M1162.6 453.7h0M401.6 433.0h0M244.6 430.0h0M232.8 403.2h0M830.7 341.0h0M1165.6 460.5h0M443.3 368.5h0M1171.7 450.0h0M164.1 386.0h0M415.4 401.0h0M1164.3 456.6h0M411.1 364.2h0M816.3 344.0h0M167.4 405.3h0M1160.7 465.4h0M1159.7 457.5h0M1173.5 439.7h0M394.8 433.5h0M830.3 324.5h0M1154.6 456.3h0M818.9 331.1h0M813.5 368.5h0M1173.7 454.9h0M439.0 364.2h0M1165.0 445.0h0M1163.4 462.4h0M393.9 425.3h0M384.2 428.6h0M1160.7 434.3h0M817.5 329.6h0M1174.6 464.5h0M385.1 434.4h0M824.9 329.1h0M403.1 423.3h0M1158.2 464.3h0M1156.0 450.3h0M403.6 425.9h0M811.3 340.6h0M1165.3 458.8h0M1158.6 442.6h0M236.1 380.7h0M1168.6 443.6h0M1160.7 441.4h0M168.4 410.7h0M102.5 293.3h0M385.3 424.7h0M763.7 374.9h0M402.5 419.3h0M391.7 441.3h0M391.6 425.3h0M413.2 408.6h0M392.3 423.5h0M813.5 353.4h0M400.6 430.8h0M1157.8 454.8h0M387.8 430.4h0M392.0 437.1h0M1161.9 467.3h0M395.3 438.8h0M189.9 324.5h0M215.7 358.8h0M817.8 359.9h0M214.6 368.5h0M820.3 324.4h0M816.9 323.9h0M390.7 441.8h0M409.0 417.1h0M1170.8 451.6h0M396.2 438.2h0M1166.8 455.8h0M194.2 326.6h0M828.8 335.3h0M400.0 420.8h0M238.2 364.2h0M1163.9 454.9h0M145.5 422.5h0M200.6 326.6h0M1159.2 445.4h0M1156.7 456.6h0M216.7 349.1h0M828.0 328.1h0M226.4 353.4h0M1155.9 457.8h0M464.8 368.5h0M826.1 329.5h0M832.8 318.0h0M827.0 324.4h0M399.3 425.3h0M825.2 335.4h0M396.1 422.3h0M1165.4 459.1h0M225.3 379.6h0M824.6 339.7h0M821.2 336.2h0M388.1 434.5h0M827.4 349.6h0M231.8 373.1h0M1170.4 465.3h0M224.2 368.5h0M829.4 338.9h0M391.9 430.9h0M1158.9 444.9h0M1162.5 450.3h0M445.4 387.1h0M1151.0 446.1h0M1159.5 460.8h0M393.8 437.1h0M1169.6 452.6h0M1166.6 439.3h0M1180.0 461.1h0M412.2 416.1h0M197.4 355.6h0M216.7 392.5h0M243.6 436.5h0M1175.8 461.0h0M209.2 375.3h0M830.9 333.7h0M834.9 323.4h0M770.7 366.3h0M213.5 418.2h0M1172.4 464.9h0M1166.4 459.9h0M1145.6 453.6h0M826.7 338.8h0M419.7 398.9h0M835.2 341.4h0M829.9 327.8h0M220.0 379.6h0M818.1 349.6h0M813.9 332.8h0M822.0 364.2h0M816.6 324.1h0M223.2 365.2h0M1161.8 447.3h0M415.4 413.9h0M399.0 431.8h0M213.5 374.2h0M223.2 389.2h0M414.3 440.8h0M1168.7 447.6h0M1161.4 457.6h0M817.8 343.4h0M148.7 381.7h0M238.2 343.8h0M1169.0 450.5h0M82.1 387.1h0M1169.7 443.0h0M402.4 431.9h0M816.1 333.2h0M1173.1 448.6h0M1161.8 442.4h0M825.3 350.2h0M1159.3 451.8h0M804.9 363.1h0M826.7 344.5h0M833.6 335.5h0M816.6 323.7h0M1156.9 456.6h0M1040.7 351.3h0M155.1 419.3h0M832.1 343.6h0M417.5 409.6h0M244.6 357.7h0M814.7 335.5h0M231.8 367.4h0M826.1 338.2h0M222.1 349.1h0M816.0 337.1h0M433.6 391.4h0M823.4 334.2h0M226.4 362.0h0M822.8 339.6h0M828.5 321.2h0M1173.1 464.6h0M823.9 342.3h0M832.8 348.0h0M398.5 439.5h0M203.9 313.7h0M182.4 380.7h0M451.9 385.0h0M826.8 346.4h0M1162.4 453.0h0M824.2 307.3h0M1161.9 453.5h0M832.8 359.9h0M1144.6 436.5h0M828.1 338.1h0M398.8 435.0h0M233.9 433.2h0M391.9 423.2h0M177.0 345.9h0M1167.1 437.5h0M813.2 341.9h0M1143.5 452.6h0M816.9 325.6h0M393.1 419.8h0M389.0 437.4h0M1165.5 447.8h0M1156.0 458.5h0M1158.4 459.6h0M820.0 328.8h0M1177.7 455.2h0M439.0 358.8h0M1169.2 471.9h0M824.7 345.3h0M400.4 439.7h0M227.5 339.5h0M211.4 382.8h0M826.6 332.9h0M825.2 348.5h0M818.1 341.5h0M818.1 345.8h0M410.0 368.5h0M1172.1 459.9h0M830.7 329.8h0M1160.6 440.2h0M238.2 377.4h0M1177.4 455.2h0M806.0 338.4h0M387.2 424.4h0M405.7 404.3h0M245.7 368.5h0M831.5 344.2h0M1174.3 444.4h0M1166.9 442.5h0M825.0 347.8h0M398.3 433.3h0M392.3 420.4h0M1166.1 447.9h0M240.3 367.4h0M1146.7 425.7h0M831.9 343.6h0M424.0 422.5h0M1157.8 442.5h0M816.2 324.4h0M217.8 364.2h0M171.7 358.8h0M807.0 373.1h0M385.7 430.2h0M1142.4 444.0h0M399.6 431.8h0M196.3 386.0h0M230.7 393.5h0M1163.7 453.5h0M802.7 352.4h0M422.9 400.0h0M1164.3 439.4h0M222.1 374.2h0M224.2 340.6h0M218.9 344.9h0M1165.5 453.2h0M432.6 362.0h0M390.7 435.7h0M420.8 394.6h0M400.0 429.2h0M825.4 331.7h0M841.4 327.7h0M186.7 410.7h0M399.7 440.4h0M243.6 379.6h0M1175.5 448.0h0M228.5 366.3h0M195.3 389.2h0M428.3 338.4h0M239.3 436.5h0M146.5 386.0h0M832.9 342.2h0M415.4 424.7h0M824.2 353.4h0M826.9 330.7h0M214.6 379.6h0M401.7 430.0h0M386.7 433.7h0M1163.8 458.1h0M194.2 359.9h0M822.0 345.1h0M402.2 434.1h0M832.5 344.7h0M221.0 359.9h0M391.8 433.5h0M415.4 386.0h0M417.5 449.3h0M818.4 341.9h0M388.5 424.6h0M1172.5 454.0h0M235.0 365.2h0M185.6 407.5h0M392.4 424.4h0M220.0 355.6h0M1166.8 469.0h0M1165.0 460.4h0M1154.2 461.1h0M242.5 374.2h0M237.1 335.8h0M1169.2 464.6h0M804.9 347.0h0M1161.5 442.9h0M217.8 376.4h0M410.0 405.3h0M419.7 417.1h0M1161.3 453.8h0M820.8 340.0h0M399.5 436.0h0M436.9 412.9h0M445.4 413.9h0M390.3 439.3h0M1035.7 358.2h0M1167.6 461.5h0M827.6 322.0h0M194.2 379.6h0M410.0 422.5h0M826.7 342.5h0M1167.5 457.0h0M406.3 434.4h0M1134.5 420.4h0M1157.3 444.2h0M441.1 401.0h0M818.8 321.4h0" stroke="#dc2e55" stroke-width="4.5" stroke-linecap="round" fill="none"/>
<path d="M1176.4 279.2h0M237.3 447.5h0M267.7 466.2h0M403.6 318.0h0M892.7 405.6h0M1171.7 316.5h0M397.8 317.6h0M1175.6 304.5h0M1176.3 304.6h0M870.3 417.1h0M245.7 450.4h0M881.2 403.2h0M252.1 460.1h0M1174.1 325.0h0M269.3 459.0h0M1174.4 279.8h0M1177.4 326.0h0M413.2 321.2h0M1172.2 303.5h0M1171.3 319.7h0M1170.5 300.8h0M900.4 411.8h0M1171.7 314.4h0M265.2 469.9h0M397.1 310.5h0M396.1 298.7h0M267.2 455.8h0M403.6 347.0h0M867.1 411.8h0M267.0 455.3h0M403.7 314.5h0M390.9 309.2h0M887.5 397.9h0M239.7 442.4h0M888.7 409.6h0M382.0 311.8h0M391.3 302.2h0M1176.0 295.7h0M1177.9 277.2h0M1175.7 296.4h0M379.9 306.2h0M364.6 293.9h0M1182.1 308.4h0M273.3 464.4h0M385.3 308.4h0M399.3 319.1h0M1179.5 301.0h0M246.9 444.4h0M242.5 436.4h0M873.6 410.7h0M239.3 456.9h0M894.3 399.8h0M247.9 463.3h0M886.1 408.7h0M1167.1 295.5h0M1178.4 298.9h0M392.9 311.6h0M412.2 347.0h0M391.8 323.4h0M381.0 305.1h0M247.9 431.1h0M247.9 434.3h0M249.0 454.3h0M1171.4 277.2h0M267.4 460.5h0M362.2 291.2h0M215.7 441.8h0M254.3 452.0h0M271.2 456.5h0M236.1 429.0h0M250.0 441.8h0M1171.6 305.9h0M881.9 407.8h0M1184.3 289.0h0M1181.4 297.9h0M262.9 453.6h0M273.6 468.7h0M1173.4 281.1h0M401.7 305.0h0M1182.0 302.2h0M1173.1 278.5h0M892.0 409.5h0M1171.2 294.4h0M378.9 314.8h0M1170.1 298.0h0M265.0 447.2h0M237.6 443.1h0M899.2 399.5h0M253.3 456.2h0M400.6 303.6h0M261.4 460.4h0M1178.3 285.6h0M387.5 313.7h0M1175.4 282.4h0M239.5 446.4h0M231.8 446.1h0M365.2 299.9h0M391.9 308.6h0M889.9 399.8h0M1174.0 318.2h0M369.6 291.6h0M254.8 447.5h0M899.9 406.0h0M1178.5 271.6h0M376.8 299.8h0M907.9 406.4h0M370.7 290.5h0M883.2 391.4h0M254.3 463.3h0M262.9 465.4h0M254.7 457.8h0M891.7 409.9h0M207.1 433.2h0M248.1 452.4h0M247.0 448.9h0M1172.1 279.0h0M232.8 429.0h0M409.0 318.0h0M1175.2 275.7h0M1177.8 326.6h0M865.0 406.4h0M896.3 399.0h0M252.7 446.2h0M252.1 466.5h0M370.2 290.2h0M1170.5 319.4h0M1174.6 269.7h0M1176.2 322.4h0M253.8 456.7h0M261.7 461.1h0M277.9 469.7h0M248.9 456.9h0M1170.4 317.0h0M238.2 439.7h0M383.2 312.7h0M892.4 402.6h0M370.9 290.6h0M363.0 291.0h0M269.2 466.7h0M405.7 310.5h0M1178.7 273.4h0M393.1 311.1h0M1174.5 305.5h0M366.4 289.3h0M1179.3 306.8h0M899.3 400.0h0M1168.2 289.0h0M902.4 404.0h0M262.2 450.7h0M265.0 461.1h0M398.2 304.1h0M218.9 447.2h0M1176.9 294.5h0M271.5 453.6h0M889.0 398.4h0M1171.0 302.1h0M1177.8 275.5h0M1177.8 317.0h0M389.6 306.2h0M885.2 398.1h0M394.5 316.2h0M365.6 292.2h0M241.4 456.7h0M400.4 313.7h0M259.7 462.2h0M1169.2 308.4h0M274.5 460.7h0M1177.8 280.8h0M875.9 402.7h0M238.3 447.4h0M1172.3 276.2h0M901.4 405.5h0M1171.4 317.0h0M237.0 448.8h0M1173.2 280.8h0M263.5 450.2h0M1180.5 307.5h0M275.0 457.7h0M367.6 296.6h0M265.0 466.5h0M370.8 298.0h0M244.2 442.3h0M268.2 470.8h0M879.5 401.5h0M269.9 458.9h0M261.4 456.0h0M237.1 445.1h0M1171.4 328.8h0M884.1 407.3h0M393.8 317.5h0M392.6 316.9h0M1172.9 298.6h0M235.0 453.6h0M395.2 307.5h0M404.7 321.2h0M388.6 305.2h0M1168.9 302.7h0M375.7 308.4h0M878.9 404.1h0M887.9 397.5h0M886.8 403.5h0M884.9 408.9h0M276.8 466.5h0M1178.1 270.6h0M393.9 304.1h0M407.9 348.1h0M1175.6 294.7h0M883.5 397.1h0M256.4 455.8h0M241.4 447.2h0M268.2 456.0h0M368.6 290.7h0M388.6 298.7h0M393.9 317.0h0M1175.7 333.1h0M896.7 397.2h0M269.3 467.6h0M240.5 456.8h0M274.6 465.9h0M272.5 462.2h0M1174.6 275.3h0M1170.6 323.1h0M877.6 400.4h0M276.0 464.0h0M1175.2 275.8h0M1173.9 317.2h0M1174.5 270.7h0M402.3 310.2h0M892.5 408.3h0M371.4 305.1h0M1178.4 321.2h0M389.6 320.2h0M274.1 467.2h0M371.4 308.4h0M246.8 445.1h0M371.1 298.3h0M242.4 456.4h0M254.4 454.4h0M1186.4 299.8h0M896.6 403.2h0M877.4 401.0h0M897.9 398.8h0M237.1 435.4h0M378.9 310.5h0M875.7 401.0h0M244.0 440.4h0M368.6 299.2h0M250.2 449.2h0M895.0 396.8h0M887.4 399.4h0M366.0 289.5h0M1176.0 306.3h0M249.2 437.1h0M876.8 401.0h0M382.1 298.7h0M884.5 409.0h0M1176.6 287.5h0M1180.0 280.5h0M407.9 314.8h0M1181.0 291.8h0M239.6 443.8h0M367.4 298.4h0M1180.7 298.5h0M259.7 468.7h0M248.6 440.0h0M265.7 467.3h0M1174.9 300.5h0M891.1 404.4h0M881.1 413.9h0M259.4 463.5h0M381.6 304.5h0M267.2 458.7h0M248.5 453.3h0M900.5 398.0h0M897.8 400.0h0M251.4 443.9h0M882.6 405.2h0M260.7 448.3h0M382.1 322.3h0M1181.2 301.6h0M274.3 458.8h0M402.1 315.8h0M256.4 448.3h0M412.2 317.0h0M272.5 471.9h0M1169.8 294.0h0M1172.3 316.1h0M370.4 298.6h0M1174.3 292.1h0M389.8 304.1h0M264.4 457.3h0M376.8 309.6h0M1172.0 301.9h0M863.9 415.0h0M1177.9 293.9h0M240.0 440.2h0M243.4 447.5h0M224.2 449.3h0M371.6 293.3h0M372.8 295.5h0M369.1 297.1h0M903.6 401.0h0M261.9 463.3h0M869.3 402.1h0M400.5 309.9h0M391.4 303.4h0M226.4 446.1h0M275.8 465.4h0M247.5 447.1h0M1170.5 289.6h0M1172.9 288.7h0M883.8 401.5h0M385.3 319.1h0M403.2 309.6h0M235.4 447.0h0M897.8 408.5h0M895.9 399.3h0M1175.3 276.5h0M389.6 315.3h0M386.5 317.4h0M880.8 403.7h0M890.7 412.9h0M249.7 453.3h0M262.7 468.9h0M900.9 408.2h0M903.0 404.8h0M1180.0 298.7h0M276.9 464.0h0M1174.6 323.6h0M275.2 466.5h0M272.7 462.5h0M1179.1 287.7h0M264.2 453.2h0M405.6 306.2h0M1170.2 295.2h0M1170.8 298.1h0M890.4 403.7h0M251.8 446.5h0M1175.3 291.7h0M391.6 307.4h0M369.0 289.2h0M250.0 452.6h0M1175.6 269.1h0M1171.9 324.7h0M1178.1 279.6h0M248.7 443.6h0M1169.3 292.3h0M273.6 464.0h0M1177.7 324.3h0M365.4 296.5h0M259.9 462.8h0M1172.3 315.7h0M270.3 456.9h0M365.8 299.3h0M378.9 321.2h0M880.0 396.8h0M243.4 436.8h0M242.5 442.9h0M892.6 397.5h0M247.8 454.2h0M1176.4 291.4h0M879.2 399.3h0M1178.2 293.3h0M904.0 402.3h0M240.4 448.0h0M212.4 441.8h0M882.9 403.3h0M886.6 405.9h0M1172.9 315.5h0M243.6 454.7h0" stroke="#0717bf" stroke-width="4.5" stroke-linecap="round" fill="none"/>
<path d="M778.7 372.1h0M426.1 403.2h0M829.2 294.0h0M447.6 411.8h0M1121.0 454.6h0M821.0 313.7h0M1122.3 450.1h0M149.8 415.0h0M433.6 442.1h0M829.6 275.1h0M1129.3 437.8h0M424.6 421.8h0M800.6 351.3h0M1115.0 439.8h0M834.6 292.2h0M1117.4 441.9h0M202.8 328.8h0M196.3 362.0h0M819.2 301.5h0M428.0 434.7h0M829.8 293.8h0M237.1 351.3h0M200.6 339.5h0M822.0 297.0h0M425.7 422.3h0M811.7 306.5h0M449.7 424.7h0M495.2 432.2h0M454.0 409.6h0M425.7 419.8h0M237.1 337.3h0M447.8 429.1h0M815.8 303.5h0M826.8 281.7h0M428.6 444.3h0M413.2 429.0h0M820.8 277.7h0M135.8 443.5h0M820.2 300.5h0M236.1 343.8h0M145.5 450.0h0M1127.8 430.5h0M1115.6 429.0h0M788.3 369.5h0M454.0 390.3h0M241.4 339.5h0M823.9 295.6h0M1134.2 437.7h0M1122.0 431.1h0M420.3 429.9h0M224.2 359.9h0M435.7 421.1h0M824.3 285.0h0M830.6 279.5h0M417.3 434.1h0M1134.7 450.0h0M1126.7 435.9h0M254.3 420.4h0M421.8 422.5h0M204.9 325.5h0M194.2 362.0h0M426.1 435.4h0M1130.7 453.0h0M1135.5 436.5h0M1128.2 432.8h0M444.9 435.3h0M1124.2 417.1h0M1121.0 464.4h0M232.8 347.0h0M825.1 297.9h0M1129.5 462.2h0M823.0 285.6h0M1120.8 429.6h0M1141.3 453.6h0M1127.4 432.0h0M803.8 359.9h0M1125.9 432.1h0M441.1 441.8h0M244.6 341.6h0M813.5 282.6h0M1125.9 436.7h0M231.8 334.1h0M1132.1 445.6h0M1115.0 448.3h0M176.0 362.0h0M818.5 295.1h0M828.6 285.7h0M481.3 388.2h0M1136.8 439.8h0M822.0 277.6h0M834.6 287.6h0M446.5 418.2h0M1135.4 448.9h0M206.0 317.0h0M827.6 283.9h0M204.9 352.4h0M114.3 353.0h0M1130.6 423.6h0M816.4 304.7h0M180.2 417.1h0M494.2 438.6h0M241.4 362.0h0M1126.8 458.1h0M436.9 433.2h0M776.5 357.3h0M236.1 359.9h0M203.9 368.5h0M226.4 349.1h0M818.3 284.1h0M1132.6 443.0h0M813.6 304.8h0M822.0 299.8h0M1127.6 445.6h0M828.4 282.4h0M436.0 432.1h0M222.1 353.4h0M432.6 437.5h0M436.9 424.7h0M426.1 426.8h0M145.5 445.1h0M1057.2 318.0h0M829.0 281.9h0M834.9 284.8h0M432.6 444.0h0M441.1 338.4h0M817.5 287.4h0M810.8 310.5h0M1134.4 434.8h0M1129.9 438.6h0M833.4 298.2h0M419.7 433.2h0M149.8 407.5h0M437.9 421.0h0M438.3 437.4h0M197.4 336.3h0M1124.1 438.4h0M1123.0 430.4h0M1127.2 429.3h0M198.5 329.8h0M812.5 311.3h0M242.5 344.9h0M826.8 274.9h0M1125.5 446.7h0M1123.5 432.0h0M833.9 351.3h0M1125.2 433.7h0M824.2 276.2h0M200.6 353.4h0M202.8 312.2h0M1118.6 431.3h0M1121.4 434.5h0M1136.0 463.3h0M199.6 358.8h0M439.8 420.9h0M819.1 292.1h0M1042.2 354.5h0M211.4 318.0h0M821.7 280.8h0M829.2 293.6h0M207.1 355.6h0M1125.8 427.6h0M1123.2 431.8h0M1130.1 448.6h0M813.5 301.9h0M1121.8 443.0h0M202.8 359.9h0M441.1 435.4h0M1131.6 437.3h0M433.6 438.9h0M436.9 446.1h0M823.5 283.0h0M168.4 364.2h0M829.5 285.6h0M192.0 334.1h0M821.3 300.5h0M431.4 436.6h0M445.4 408.6h0M1122.3 441.5h0M201.7 321.2h0M419.4 434.7h0M199.6 372.1h0M1117.0 439.7h0M831.7 269.7h0M817.2 305.8h0M199.6 366.3h0M827.0 282.0h0M231.8 355.6h0M837.1 333.1h0M1114.5 437.5h0M823.7 301.0h0M821.4 296.8h0M1126.8 431.5h0M1134.1 444.0h0M1120.3 450.4h0M242.5 353.4h0M836.0 314.4h0M833.5 295.6h0M1129.6 444.9h0M179.2 351.3h0M421.2 432.0h0M410.0 425.7h0M427.7 443.9h0M202.8 347.0h0M1125.4 449.8h0M1118.0 441.6h0M836.0 295.5h0M813.7 309.0h0M405.7 355.6h0M1141.3 441.8h0M441.1 420.4h0M1123.5 436.3h0M447.6 435.4h0M1125.7 443.7h0M1128.7 441.9h0M460.5 394.6h0M443.3 413.9h0M754.0 395.7h0M208.1 361.0h0M1130.3 445.9h0M433.2 440.2h0M1113.4 452.6h0M415.4 374.2h0M255.4 424.7h0M1127.0 427.8h0M209.2 314.4h0M196.3 342.7h0M826.6 303.7h0M830.2 289.0h0M419.7 448.3h0M445.4 439.7h0M834.7 289.3h0M831.8 294.9h0M232.8 340.6h0M828.5 301.9h0M426.8 416.7h0M201.7 334.1h0M437.6 428.3h0M1134.0 438.9h0M823.9 285.7h0M822.5 279.2h0M1121.7 438.1h0M817.8 280.5h0M818.1 287.4h0M832.9 279.2h0M223.2 393.5h0M816.7 302.1h0M1130.9 451.6h0M170.6 366.3h0M834.9 340.6h0M203.9 400.0h0M480.2 347.0h0M449.7 397.8h0M423.4 427.1h0M820.6 278.7h0M834.2 294.2h0M437.1 436.5h0M1125.1 429.6h0M208.1 322.3h0M825.9 289.3h0M148.7 363.1h0M426.1 444.0h0M202.8 341.6h0M1133.0 435.6h0M1116.2 438.3h0M1136.9 444.0h0M1134.9 429.0h0M437.9 344.9h0M1117.5 438.0h0M427.2 418.2h0M1139.2 437.5h0M815.1 311.4h0M443.3 341.6h0M808.1 309.4h0M443.3 429.0h0M831.2 287.8h0M441.1 409.6h0M1132.8 445.3h0M815.6 290.1h0M812.8 304.6h0M1117.7 461.1h0M199.6 323.4h0M1125.4 444.0h0M1085.5 402.8h0M827.9 301.0h0M1125.2 436.5h0M220.0 339.5h0M454.0 403.2h0M831.8 300.7h0M1124.5 449.7h0M443.3 364.2h0M1086.8 409.2h0M830.0 280.5h0M432.6 422.5h0M1123.0 430.5h0M432.8 417.3h0M421.8 439.7h0M244.6 365.2h0M834.9 330.9h0M197.4 348.1h0M1130.0 456.6h0M1127.6 459.5h0M1122.6 437.3h0M433.2 424.3h0M821.2 295.0h0M415.4 422.5h0M789.4 392.5h0M1130.1 444.4h0M1120.0 447.4h0M788.3 377.4h0M458.3 388.2h0M1135.1 437.9h0M1122.2 440.7h0M783.0 361.0h0M425.0 443.6h0M1137.5 447.6h0M435.7 416.6h0M811.3 312.7h0M417.6 436.8h0M1121.3 442.9h0M826.2 291.0h0M182.4 417.8h0M832.8 289.0h0M1125.1 438.3h0M208.1 347.0h0M832.8 299.8h0M1118.8 420.4h0" stroke="#00007e" stroke-width="4.5" stroke-linecap="round" fill="none"/>
<rect x="267.6" y="491.6" width="760.4" height="19.7" rx="2" fill="#fff" stroke="#dcdcdc" stroke-width="1"/>
<line x1="271" y1="500.7" x2="294" y2="500.7" stroke="#fcdfbd" stroke-width="1.5"/><circle cx="282.4" cy="500.7" r="1.8" fill="#fcdfbd"/>
<text x="302.6" y="504.8" font-size="11.5" textLength="36.3" lengthAdjust="spacingAndGlyphs" fill="#1a1a1a">Margin</text>
<line x1="360.3" y1="500.7" x2="383.7" y2="500.7" stroke="#8ccfec" stroke-width="1.5"/><circle cx="372" cy="500.7" r="1.8" fill="#8ccfec"/>
<text x="391.9" y="504.8" font-size="11.5" textLength="31.5" lengthAdjust="spacingAndGlyphs" fill="#1a1a1a">Count</text>
<circle cx="457" cy="501.9" r="2" fill="#00007e"/>
<text x="476.5" y="504.8" font-size="11.5" fill="#1a1a1a">1</text>
<circle cx="516.2" cy="501.9" r="2" fill="#0717bf"/>
<text x="535.8" y="504.8" font-size="11.5" fill="#1a1a1a">2</text>
<circle cx="575.5" cy="501.9" r="2" fill="#5ad8f2"/>
<text x="595" y="504.8" font-size="11.5" fill="#1a1a1a">3</text>
<circle cx="634.8" cy="501.9" r="2" fill="#6bea7c"/>
<text x="654.2" y="504.8" font-size="11.5" fill="#1a1a1a">4</text>
<circle cx="694" cy="501.9" r="2" fill="#80c93c"/>
<text x="713.5" y="504.8" font-size="11.5" fill="#1a1a1a">5</text>
<circle cx="753.2" cy="501.9" r="2" fill="#c6f25a"/>
<text x="772.8" y="504.8" font-size="11.5" fill="#1a1a1a">6</text>
<circle cx="812.5" cy="501.9" r="2" fill="#f6d43f"/>
<text x="832" y="504.8" font-size="11.5" fill="#1a1a1a">7</text>
<circle cx="871.8" cy="501.9" r="2" fill="#ed8632"/>
<text x="891.2" y="504.8" font-size="11.5" fill="#1a1a1a">8</text>
<circle cx="931" cy="501.9" r="2" fill="#dc2e55"/>
<text x="950.5" y="504.8" font-size="11.5" fill="#1a1a1a">9</text>
<circle cx="990.2" cy="501.9" r="2" fill="#8d3ff0"/>
<text x="1009.8" y="504.8" font-size="11.5" fill="#1a1a1a">10</text>
</svg></body></html>
